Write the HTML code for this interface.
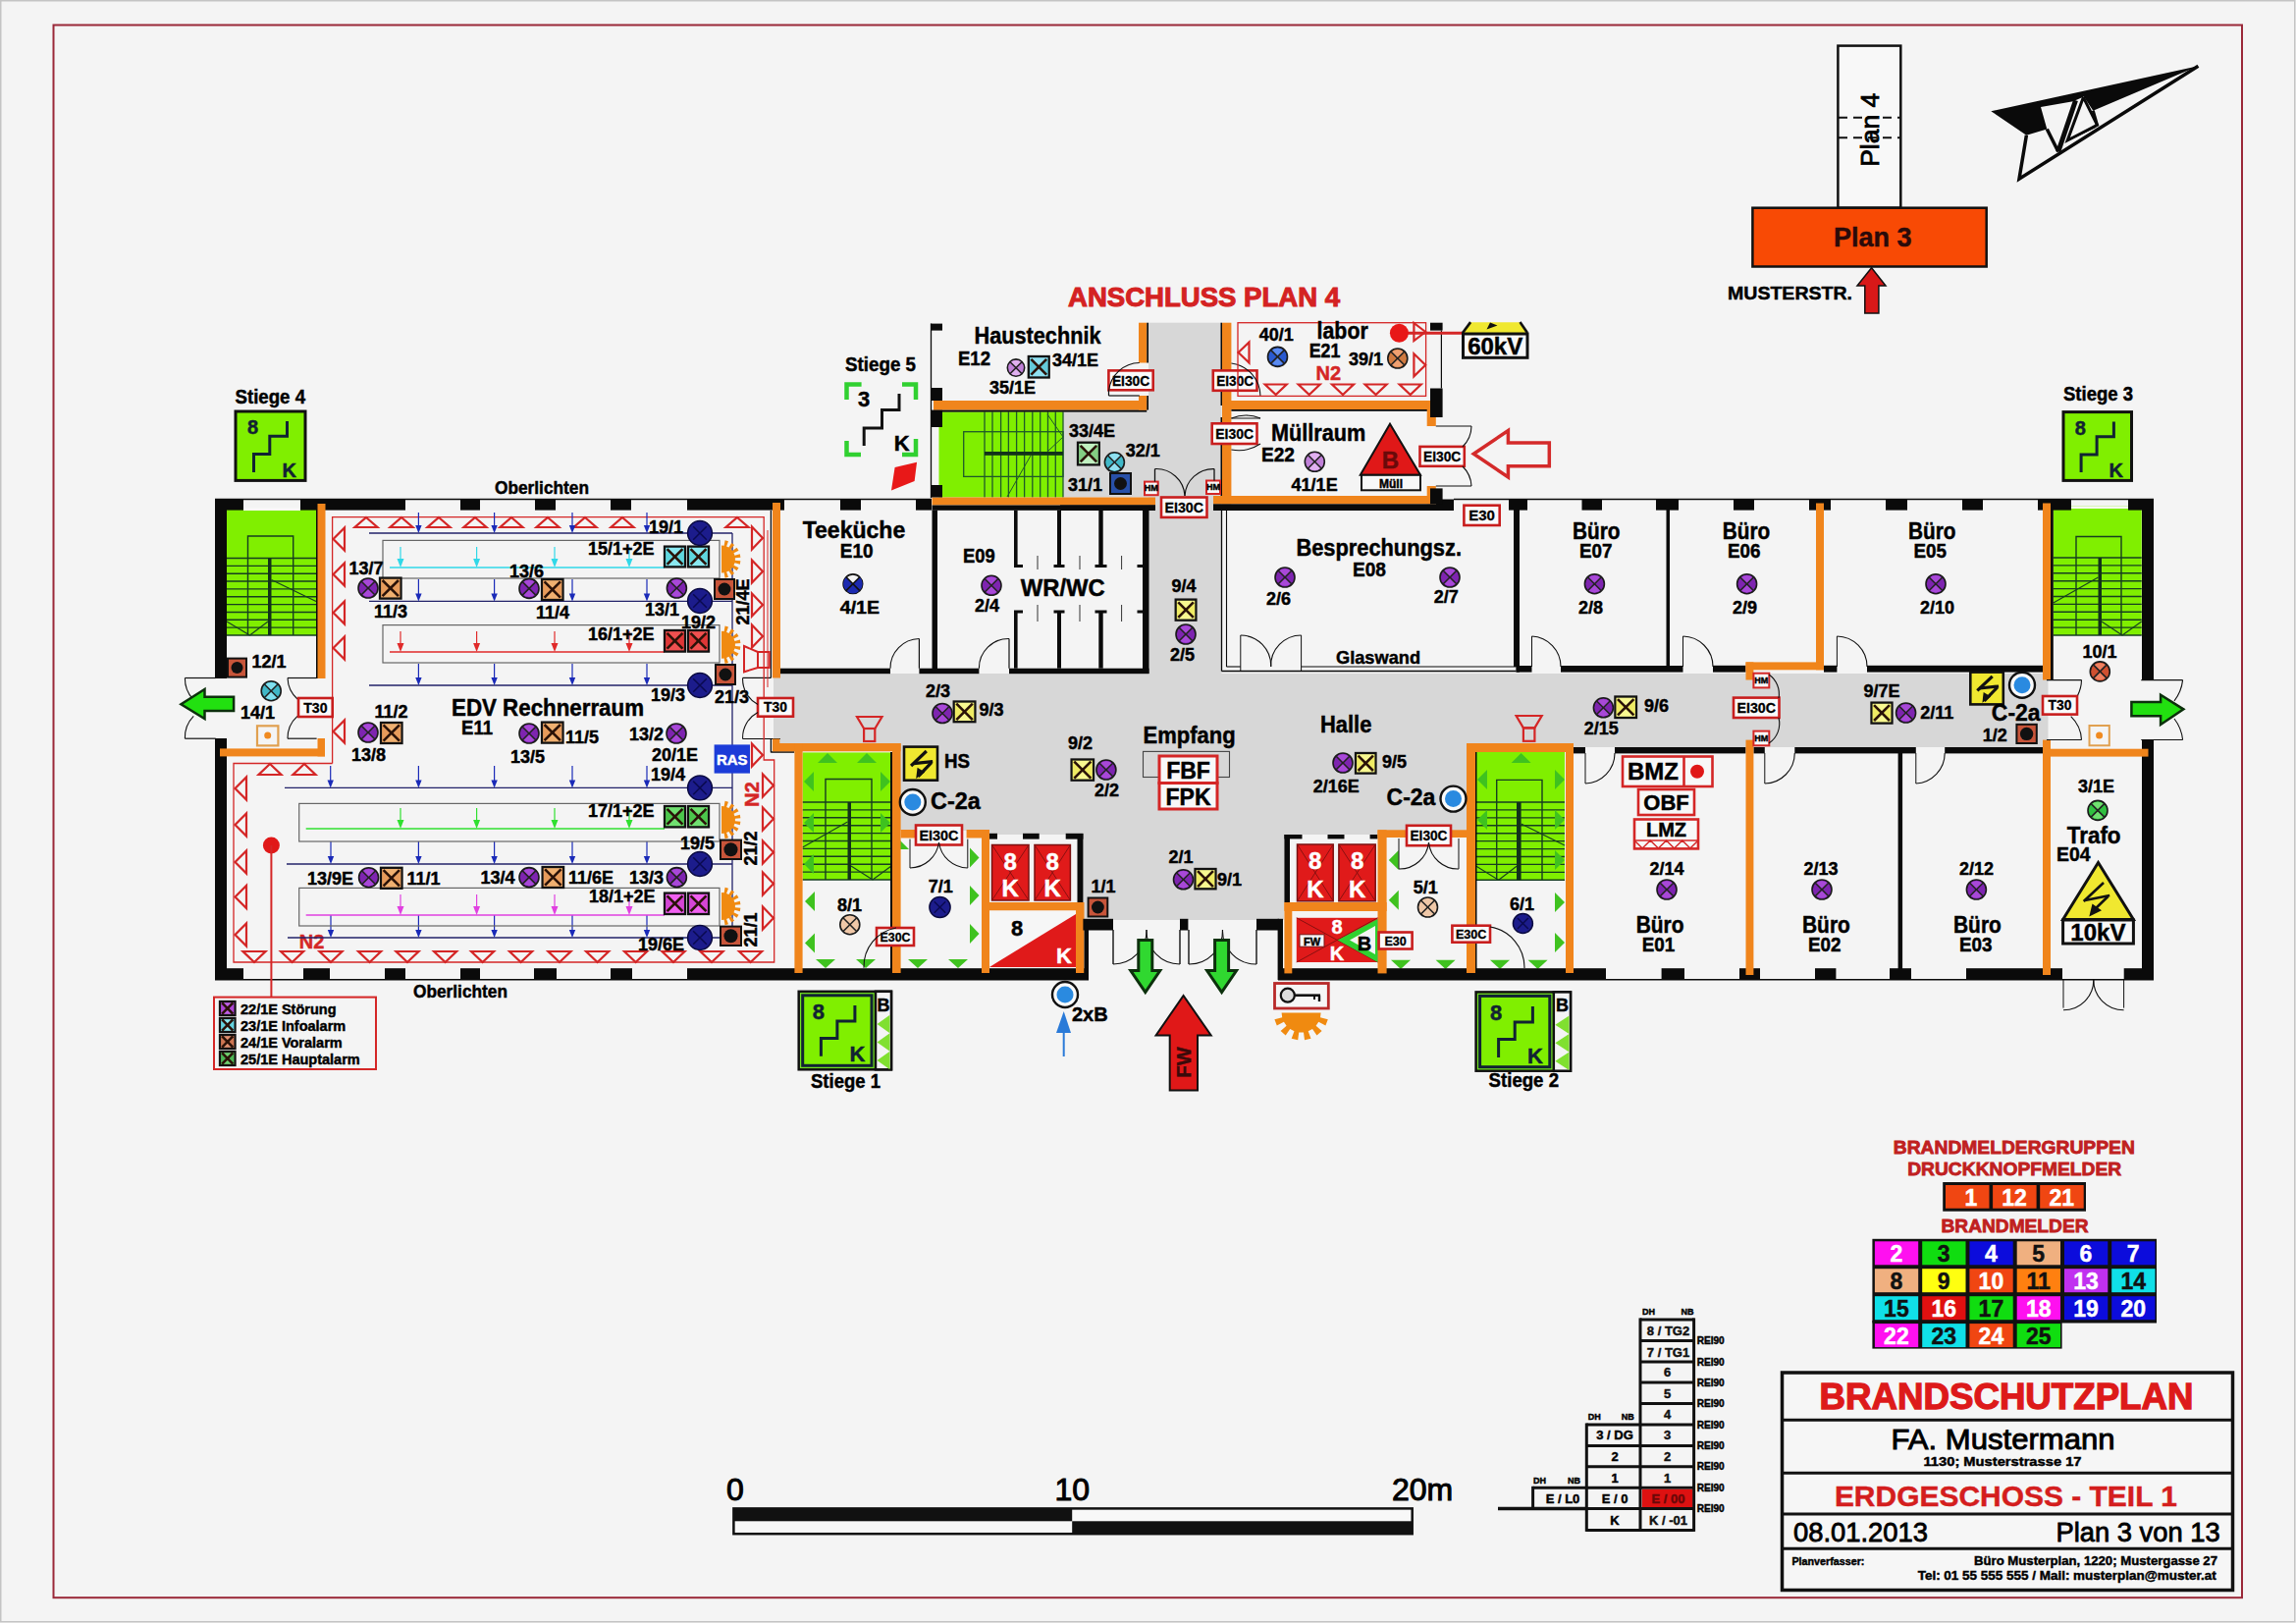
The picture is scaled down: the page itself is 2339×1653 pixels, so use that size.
<!DOCTYPE html>
<html><head><meta charset="utf-8"><title>Brandschutzplan</title>
<style>html,body{margin:0;padding:0;background:#f4f4f4;} svg{display:block;} text{font-family:"Liberation Sans",sans-serif;}</style>
</head><body>
<svg width="2339" height="1653" viewBox="0 0 2339 1653">
<rect x="0" y="0" width="2339" height="1653" fill="#f4f4f4"/>
<rect x="0.75" y="0.75" width="2337" height="1651" fill="none" stroke="#c4c4c4" stroke-width="1.5"/>
<rect x="54.5" y="25.5" width="2229.5" height="1601.7" fill="none" stroke="#9a2838" stroke-width="2"/>
<rect x="1170.0" y="328.7" width="74.5" height="371.3" fill="#d7d7d7"/>
<rect x="788.0" y="686.0" width="1298.5" height="75.0" fill="#d7d7d7"/>
<rect x="917.0" y="686.0" width="577.0" height="160.0" fill="#d7d7d7"/>
<rect x="1008.0" y="846.0" width="300.0" height="4.0" fill="#d7d7d7"/>
<rect x="1103.0" y="846.0" width="205.0" height="91.0" fill="#d7d7d7"/>
<rect x="1308.0" y="846.0" width="96.0" height="4.0" fill="#d7d7d7"/>
<rect x="1083.0" y="419.0" width="87.0" height="87.5" fill="#d7d7d7"/>
<rect x="231.0" y="517.0" width="91.0" height="130.0" fill="#80ef00"/>
<polyline points="252.5,647.0 252.5,546.0 298.7,546.0 298.7,647.0" fill="none" stroke="#163e20" stroke-width="1.4"/>
<line x1="231.0" y1="568.5" x2="322.0" y2="568.5" stroke="#163e20" stroke-width="1.4"/>
<line x1="231.0" y1="576.4" x2="322.0" y2="576.4" stroke="#163e20" stroke-width="1.4"/>
<line x1="231.0" y1="584.2" x2="322.0" y2="584.2" stroke="#163e20" stroke-width="1.4"/>
<line x1="231.0" y1="592.0" x2="322.0" y2="592.0" stroke="#163e20" stroke-width="1.4"/>
<line x1="231.0" y1="599.9" x2="322.0" y2="599.9" stroke="#163e20" stroke-width="1.4"/>
<line x1="231.0" y1="607.8" x2="322.0" y2="607.8" stroke="#163e20" stroke-width="1.4"/>
<line x1="231.0" y1="615.6" x2="322.0" y2="615.6" stroke="#163e20" stroke-width="1.4"/>
<line x1="231.0" y1="623.5" x2="322.0" y2="623.5" stroke="#163e20" stroke-width="1.4"/>
<line x1="231.0" y1="631.3" x2="322.0" y2="631.3" stroke="#163e20" stroke-width="1.4"/>
<line x1="231.0" y1="639.1" x2="322.0" y2="639.1" stroke="#163e20" stroke-width="1.4"/>
<line x1="231.0" y1="647.0" x2="322.0" y2="647.0" stroke="#163e20" stroke-width="1.4"/>
<rect x="273.0" y="568.5" width="3.5" height="78.5" fill="#12321a"/>
<line x1="276.5" y1="590.5" x2="322.0" y2="612.5" stroke="#163e20" stroke-width="1.1"/>
<line x1="231.0" y1="633.0" x2="254.5" y2="647.0" stroke="#163e20" stroke-width="1.1"/>
<line x1="254.5" y1="647.0" x2="273.0" y2="633.0" stroke="#163e20" stroke-width="1.1"/>
<rect x="248.0" y="517.0" width="58.0" height="3.0" fill="#f8f8f8"/>
<rect x="2091.8" y="515.5" width="89.9" height="131.5" fill="#80ef00"/>
<polyline points="2115.0,647.0 2115.0,546.5 2161.0,546.5 2161.0,647.0" fill="none" stroke="#163e20" stroke-width="1.4"/>
<line x1="2091.8" y1="568.0" x2="2181.7" y2="568.0" stroke="#163e20" stroke-width="1.4"/>
<line x1="2091.8" y1="575.9" x2="2181.7" y2="575.9" stroke="#163e20" stroke-width="1.4"/>
<line x1="2091.8" y1="583.8" x2="2181.7" y2="583.8" stroke="#163e20" stroke-width="1.4"/>
<line x1="2091.8" y1="591.7" x2="2181.7" y2="591.7" stroke="#163e20" stroke-width="1.4"/>
<line x1="2091.8" y1="599.6" x2="2181.7" y2="599.6" stroke="#163e20" stroke-width="1.4"/>
<line x1="2091.8" y1="607.5" x2="2181.7" y2="607.5" stroke="#163e20" stroke-width="1.4"/>
<line x1="2091.8" y1="615.4" x2="2181.7" y2="615.4" stroke="#163e20" stroke-width="1.4"/>
<line x1="2091.8" y1="623.3" x2="2181.7" y2="623.3" stroke="#163e20" stroke-width="1.4"/>
<line x1="2091.8" y1="631.2" x2="2181.7" y2="631.2" stroke="#163e20" stroke-width="1.4"/>
<line x1="2091.8" y1="639.1" x2="2181.7" y2="639.1" stroke="#163e20" stroke-width="1.4"/>
<line x1="2091.8" y1="647.0" x2="2181.7" y2="647.0" stroke="#163e20" stroke-width="1.4"/>
<rect x="2137.5" y="568.0" width="3.5" height="79.0" fill="#12321a"/>
<line x1="2137.5" y1="588.0" x2="2091.8" y2="614.0" stroke="#163e20" stroke-width="1.1"/>
<line x1="2181.7" y1="633.0" x2="2162.0" y2="647.0" stroke="#163e20" stroke-width="1.1"/>
<line x1="2162.0" y1="647.0" x2="2141.0" y2="633.0" stroke="#163e20" stroke-width="1.1"/>
<rect x="2110.0" y="515.5" width="58.0" height="2.5" fill="#f8f8f8"/>
<rect x="817.6" y="766.4" width="90.4" height="129.6" fill="#80ef00"/>
<polyline points="841.0,896.0 841.0,793.5 888.0,793.5 888.0,896.0" fill="none" stroke="#163e20" stroke-width="1.4"/>
<line x1="817.6" y1="817.0" x2="908.0" y2="817.0" stroke="#163e20" stroke-width="1.4"/>
<line x1="817.6" y1="824.9" x2="908.0" y2="824.9" stroke="#163e20" stroke-width="1.4"/>
<line x1="817.6" y1="832.8" x2="908.0" y2="832.8" stroke="#163e20" stroke-width="1.4"/>
<line x1="817.6" y1="840.7" x2="908.0" y2="840.7" stroke="#163e20" stroke-width="1.4"/>
<line x1="817.6" y1="848.6" x2="908.0" y2="848.6" stroke="#163e20" stroke-width="1.4"/>
<line x1="817.6" y1="856.5" x2="908.0" y2="856.5" stroke="#163e20" stroke-width="1.4"/>
<line x1="817.6" y1="864.4" x2="908.0" y2="864.4" stroke="#163e20" stroke-width="1.4"/>
<line x1="817.6" y1="872.3" x2="908.0" y2="872.3" stroke="#163e20" stroke-width="1.4"/>
<line x1="817.6" y1="880.2" x2="908.0" y2="880.2" stroke="#163e20" stroke-width="1.4"/>
<line x1="817.6" y1="888.1" x2="908.0" y2="888.1" stroke="#163e20" stroke-width="1.4"/>
<line x1="817.6" y1="896.0" x2="908.0" y2="896.0" stroke="#163e20" stroke-width="1.4"/>
<rect x="863.5" y="817.0" width="3.5" height="79.0" fill="#12321a"/>
<line x1="863.5" y1="837.0" x2="817.6" y2="863.0" stroke="#163e20" stroke-width="1.1"/>
<line x1="908.0" y1="882.0" x2="889.0" y2="896.0" stroke="#163e20" stroke-width="1.1"/>
<line x1="889.0" y1="896.0" x2="867.0" y2="882.0" stroke="#163e20" stroke-width="1.1"/>
<rect x="1504.0" y="766.0" width="90.0" height="130.3" fill="#80ef00"/>
<polyline points="1524.7,896.3 1524.7,794.4 1571.0,794.4 1571.0,896.3" fill="none" stroke="#163e20" stroke-width="1.4"/>
<line x1="1504.0" y1="817.0" x2="1594.0" y2="817.0" stroke="#163e20" stroke-width="1.4"/>
<line x1="1504.0" y1="824.9" x2="1594.0" y2="824.9" stroke="#163e20" stroke-width="1.4"/>
<line x1="1504.0" y1="832.9" x2="1594.0" y2="832.9" stroke="#163e20" stroke-width="1.4"/>
<line x1="1504.0" y1="840.8" x2="1594.0" y2="840.8" stroke="#163e20" stroke-width="1.4"/>
<line x1="1504.0" y1="848.7" x2="1594.0" y2="848.7" stroke="#163e20" stroke-width="1.4"/>
<line x1="1504.0" y1="856.6" x2="1594.0" y2="856.6" stroke="#163e20" stroke-width="1.4"/>
<line x1="1504.0" y1="864.6" x2="1594.0" y2="864.6" stroke="#163e20" stroke-width="1.4"/>
<line x1="1504.0" y1="872.5" x2="1594.0" y2="872.5" stroke="#163e20" stroke-width="1.4"/>
<line x1="1504.0" y1="880.4" x2="1594.0" y2="880.4" stroke="#163e20" stroke-width="1.4"/>
<line x1="1504.0" y1="888.4" x2="1594.0" y2="888.4" stroke="#163e20" stroke-width="1.4"/>
<line x1="1504.0" y1="896.3" x2="1594.0" y2="896.3" stroke="#163e20" stroke-width="1.4"/>
<rect x="1545.0" y="817.0" width="4.6" height="79.3" fill="#12321a"/>
<line x1="1549.6" y1="839.0" x2="1594.0" y2="861.0" stroke="#163e20" stroke-width="1.1"/>
<line x1="1504.0" y1="882.3" x2="1526.7" y2="896.3" stroke="#163e20" stroke-width="1.1"/>
<line x1="1526.7" y1="896.3" x2="1545.0" y2="882.3" stroke="#163e20" stroke-width="1.1"/>
<rect x="956.5" y="419.4" width="126.5" height="87.1" fill="#80ef00"/>
<line x1="1003.0" y1="419.4" x2="1003.0" y2="506.5" stroke="#1f5a2a" stroke-width="1.3"/>
<line x1="1011.0" y1="419.4" x2="1011.0" y2="506.5" stroke="#1f5a2a" stroke-width="1.3"/>
<line x1="1019.6" y1="419.4" x2="1019.6" y2="506.5" stroke="#1f5a2a" stroke-width="1.3"/>
<line x1="1027.4" y1="419.4" x2="1027.4" y2="506.5" stroke="#1f5a2a" stroke-width="1.3"/>
<line x1="1035.6" y1="419.4" x2="1035.6" y2="506.5" stroke="#1f5a2a" stroke-width="1.3"/>
<line x1="1043.6" y1="419.4" x2="1043.6" y2="506.5" stroke="#1f5a2a" stroke-width="1.3"/>
<line x1="1051.8" y1="419.4" x2="1051.8" y2="506.5" stroke="#1f5a2a" stroke-width="1.3"/>
<line x1="1059.7" y1="419.4" x2="1059.7" y2="506.5" stroke="#1f5a2a" stroke-width="1.3"/>
<line x1="1067.5" y1="419.4" x2="1067.5" y2="506.5" stroke="#1f5a2a" stroke-width="1.3"/>
<line x1="1075.3" y1="419.4" x2="1075.3" y2="506.5" stroke="#1f5a2a" stroke-width="1.3"/>
<line x1="1083.0" y1="419.4" x2="1083.0" y2="506.5" stroke="#1f5a2a" stroke-width="1.3"/>
<rect x="981.7" y="439.7" width="101.3" height="45.7" fill="none" stroke="#1f5a2a" stroke-width="1.3"/>
<rect x="1003.0" y="460.0" width="80.0" height="3.8" fill="#12321a"/>
<line x1="1067.0" y1="422.0" x2="1083.0" y2="445.0" stroke="#1f5a2a" stroke-width="1"/>
<line x1="1083.0" y1="445.0" x2="1067.0" y2="460.0" stroke="#1f5a2a" stroke-width="1"/>
<line x1="1026.0" y1="506.0" x2="1050.0" y2="464.0" stroke="#1f5a2a" stroke-width="1"/>
<polygon points="833.0,777.0 853.0,777.0 843.0,767.0" fill="#3fc21f"/>
<polygon points="873.0,777.0 893.0,777.0 883.0,767.0" fill="#3fc21f"/>
<polygon points="819.0,796.0 829.0,786.0 829.0,806.0" fill="#3fc21f"/>
<polygon points="819.0,838.0 829.0,828.0 829.0,848.0" fill="#3fc21f"/>
<polygon points="819.0,880.0 829.0,870.0 829.0,890.0" fill="#3fc21f"/>
<polygon points="907.0,796.0 897.0,786.0 897.0,806.0" fill="#3fc21f"/>
<polygon points="907.0,838.0 897.0,828.0 897.0,848.0" fill="#3fc21f"/>
<polygon points="820.0,918.0 830.0,908.0 830.0,928.0" fill="#3fc21f"/>
<polygon points="820.0,960.5 830.0,950.5 830.0,970.5" fill="#3fc21f"/>
<polygon points="831.0,977.0 851.0,977.0 841.0,986.0" fill="#3fc21f"/>
<polygon points="872.0,977.0 892.0,977.0 882.0,986.0" fill="#3fc21f"/>
<polygon points="925.0,977.0 945.0,977.0 935.0,986.0" fill="#3fc21f"/>
<polygon points="966.0,977.0 986.0,977.0 976.0,986.0" fill="#3fc21f"/>
<polygon points="997.5,873.5 988.0,863.5 988.0,883.5" fill="#3fc21f"/>
<polygon points="997.5,912.0 988.0,902.0 988.0,922.0" fill="#3fc21f"/>
<polygon points="997.5,951.0 988.0,941.0 988.0,961.0" fill="#3fc21f"/>
<polygon points="908.0,865.0 926.0,865.0 917.0,856.0" fill="#3fc21f"/>
<polygon points="1539.6,777.0 1559.6,777.0 1549.6,767.0" fill="#3fc21f"/>
<polygon points="1505.0,794.0 1515.0,784.0 1515.0,804.0" fill="#3fc21f"/>
<polygon points="1505.0,835.0 1515.0,825.0 1515.0,845.0" fill="#3fc21f"/>
<polygon points="1594.0,794.0 1584.0,784.0 1584.0,804.0" fill="#3fc21f"/>
<polygon points="1594.0,835.0 1584.0,825.0 1584.0,845.0" fill="#3fc21f"/>
<polygon points="1594.0,876.0 1584.0,866.0 1584.0,886.0" fill="#3fc21f"/>
<polygon points="1594.0,919.0 1584.0,909.0 1584.0,929.0" fill="#3fc21f"/>
<polygon points="1594.0,960.0 1584.0,950.0 1584.0,970.0" fill="#3fc21f"/>
<polygon points="1414.8,876.0 1424.8,866.0 1424.8,886.0" fill="#3fc21f"/>
<polygon points="1414.8,916.7 1424.8,906.7 1424.8,926.7" fill="#3fc21f"/>
<polygon points="1417.0,977.8 1437.0,977.8 1427.0,987.0" fill="#3fc21f"/>
<polygon points="1462.6,977.8 1482.6,977.8 1472.6,987.0" fill="#3fc21f"/>
<polygon points="1518.0,977.8 1538.0,977.8 1528.0,987.0" fill="#3fc21f"/>
<polygon points="1556.6,977.8 1576.6,977.8 1566.6,987.0" fill="#3fc21f"/>
<line x1="219.0" y1="508.5" x2="949.0" y2="508.5" stroke="#0a0a0a" stroke-width="1.5"/>
<line x1="1481.0" y1="508.5" x2="2194.0" y2="508.5" stroke="#0a0a0a" stroke-width="1.5"/>
<rect x="219.0" y="508.5" width="29.0" height="11.1" fill="#0a0a0a"/>
<rect x="306.0" y="508.5" width="107.0" height="11.1" fill="#0a0a0a"/>
<rect x="469.0" y="508.5" width="20.0" height="11.1" fill="#0a0a0a"/>
<rect x="545.0" y="508.5" width="21.0" height="11.1" fill="#0a0a0a"/>
<rect x="622.0" y="508.5" width="21.0" height="11.1" fill="#0a0a0a"/>
<rect x="700.0" y="508.5" width="99.0" height="11.1" fill="#0a0a0a"/>
<rect x="856.0" y="508.5" width="21.0" height="11.1" fill="#0a0a0a"/>
<rect x="933.0" y="508.5" width="16.0" height="11.1" fill="#0a0a0a"/>
<rect x="1463.0" y="508.5" width="18.0" height="11.1" fill="#0a0a0a"/>
<rect x="1537.0" y="508.5" width="19.0" height="11.1" fill="#0a0a0a"/>
<rect x="1611.5" y="508.5" width="20.5" height="11.1" fill="#0a0a0a"/>
<rect x="1687.0" y="508.5" width="23.0" height="11.1" fill="#0a0a0a"/>
<rect x="1766.0" y="508.5" width="21.0" height="11.1" fill="#0a0a0a"/>
<rect x="1843.0" y="508.5" width="22.0" height="11.1" fill="#0a0a0a"/>
<rect x="1921.0" y="508.5" width="22.0" height="11.1" fill="#0a0a0a"/>
<rect x="1999.0" y="508.5" width="21.0" height="11.1" fill="#0a0a0a"/>
<rect x="2076.0" y="508.5" width="34.0" height="11.1" fill="#0a0a0a"/>
<rect x="2168.0" y="508.5" width="26.0" height="11.1" fill="#0a0a0a"/>
<line x1="219.0" y1="997.8" x2="1109.0" y2="997.8" stroke="#0a0a0a" stroke-width="1.5"/>
<line x1="1302.0" y1="997.8" x2="2194.0" y2="997.8" stroke="#0a0a0a" stroke-width="1.5"/>
<rect x="219.0" y="986.2" width="29.0" height="11.8" fill="#0a0a0a"/>
<rect x="309.0" y="986.2" width="27.0" height="11.8" fill="#0a0a0a"/>
<rect x="392.0" y="986.2" width="21.0" height="11.8" fill="#0a0a0a"/>
<rect x="469.0" y="986.2" width="20.0" height="11.8" fill="#0a0a0a"/>
<rect x="544.0" y="986.2" width="23.0" height="11.8" fill="#0a0a0a"/>
<rect x="622.0" y="986.2" width="22.0" height="11.8" fill="#0a0a0a"/>
<rect x="700.0" y="986.2" width="409.0" height="11.8" fill="#0a0a0a"/>
<rect x="1302.0" y="986.2" width="334.0" height="11.8" fill="#0a0a0a"/>
<rect x="1692.6" y="986.2" width="23.4" height="11.8" fill="#0a0a0a"/>
<rect x="1772.0" y="986.2" width="21.0" height="11.8" fill="#0a0a0a"/>
<rect x="1849.0" y="986.2" width="21.4" height="11.8" fill="#0a0a0a"/>
<rect x="1925.0" y="986.2" width="22.0" height="11.8" fill="#0a0a0a"/>
<rect x="2003.0" y="986.2" width="98.0" height="11.8" fill="#0a0a0a"/>
<rect x="2163.7" y="986.2" width="30.3" height="11.8" fill="#0a0a0a"/>
<rect x="219.0" y="508.5" width="12.0" height="182.5" fill="#0a0a0a"/>
<rect x="219.0" y="752.0" width="12.0" height="246.0" fill="#0a0a0a"/>
<rect x="2182.0" y="508.5" width="12.0" height="184.0" fill="#0a0a0a"/>
<rect x="2182.0" y="753.6" width="12.0" height="244.4" fill="#0a0a0a"/>
<rect x="322.0" y="513.0" width="2.0" height="178.0" fill="#0a0a0a"/>
<rect x="323.5" y="513.0" width="8.0" height="178.0" fill="#f0851c"/>
<rect x="224.0" y="762.4" width="107.0" height="8.0" fill="#f0851c"/>
<rect x="323.5" y="752.0" width="7.5" height="18.4" fill="#f0851c"/>
<rect x="2081.0" y="512.5" width="8.0" height="180.0" fill="#f0851c"/>
<rect x="2089.0" y="515.5" width="2.8" height="177.0" fill="#0a0a0a"/>
<rect x="2081.0" y="753.6" width="8.0" height="239.4" fill="#f0851c"/>
<rect x="2089.0" y="762.7" width="99.5" height="7.9" fill="#f0851c"/>
<rect x="787.0" y="512.0" width="8.0" height="178.5" fill="#f0851c"/>
<line x1="785.4" y1="520.0" x2="785.4" y2="690.4" stroke="#0a0a0a" stroke-width="1.3"/>
<line x1="756.6" y1="690.4" x2="785.4" y2="690.4" stroke="#0a0a0a" stroke-width="1.2"/>
<line x1="756.6" y1="752.5" x2="794.8" y2="752.5" stroke="#0a0a0a" stroke-width="1.2"/>
<rect x="787.0" y="752.5" width="7.3" height="12.8" fill="#f0851c"/>
<line x1="785.4" y1="752.5" x2="785.4" y2="766.4" stroke="#0a0a0a" stroke-width="1.3"/>
<line x1="785.4" y1="766.0" x2="809.2" y2="766.0" stroke="#0a0a0a" stroke-width="1.5"/>
<rect x="795.0" y="680.7" width="112.0" height="5.5" fill="#0a0a0a"/>
<rect x="936.4" y="680.7" width="61.0" height="5.5" fill="#0a0a0a"/>
<rect x="1028.0" y="680.7" width="142.5" height="5.5" fill="#0a0a0a"/>
<rect x="949.5" y="519.6" width="5.5" height="166.4" fill="#0a0a0a"/>
<rect x="1164.0" y="519.6" width="6.5" height="166.4" fill="#0a0a0a"/>
<rect x="949.5" y="506.5" width="227.5" height="8.0" fill="#f0851c"/>
<rect x="949.5" y="514.5" width="227.5" height="5.3" fill="#0a0a0a"/>
<rect x="1033.0" y="519.6" width="3.6" height="57.7" fill="#0a0a0a"/>
<rect x="1033.0" y="622.0" width="3.6" height="58.7" fill="#0a0a0a"/>
<rect x="1077.0" y="519.6" width="4.0" height="57.7" fill="#0a0a0a"/>
<rect x="1077.0" y="622.0" width="4.0" height="58.7" fill="#0a0a0a"/>
<rect x="1119.3" y="519.6" width="4.4" height="57.7" fill="#0a0a0a"/>
<rect x="1119.3" y="622.0" width="4.4" height="58.7" fill="#0a0a0a"/>
<rect x="1033.0" y="575.0" width="9.0" height="3.0" fill="#0a0a0a"/>
<rect x="1033.0" y="621.5" width="9.0" height="3.0" fill="#0a0a0a"/>
<rect x="1073.5" y="575.0" width="11.0" height="3.0" fill="#0a0a0a"/>
<rect x="1073.5" y="621.5" width="11.0" height="3.0" fill="#0a0a0a"/>
<rect x="1115.5" y="575.0" width="12.0" height="3.0" fill="#0a0a0a"/>
<rect x="1115.5" y="621.5" width="12.0" height="3.0" fill="#0a0a0a"/>
<rect x="1158.5" y="575.0" width="5.5" height="3.0" fill="#0a0a0a"/>
<rect x="1158.5" y="621.5" width="5.5" height="3.0" fill="#0a0a0a"/>
<line x1="1057.0" y1="566.0" x2="1057.0" y2="580.0" stroke="#333" stroke-width="1"/>
<line x1="1057.0" y1="616.0" x2="1057.0" y2="633.0" stroke="#333" stroke-width="1"/>
<line x1="1100.0" y1="566.0" x2="1100.0" y2="580.0" stroke="#333" stroke-width="1"/>
<line x1="1100.0" y1="616.0" x2="1100.0" y2="633.0" stroke="#333" stroke-width="1"/>
<line x1="1142.6" y1="566.0" x2="1142.6" y2="580.0" stroke="#333" stroke-width="1"/>
<line x1="1142.6" y1="616.0" x2="1142.6" y2="633.0" stroke="#333" stroke-width="1"/>
<line x1="948.5" y1="329.6" x2="948.5" y2="507.0" stroke="#0a0a0a" stroke-width="1.3"/>
<rect x="948.0" y="329.6" width="12.0" height="7.0" fill="#0a0a0a"/>
<rect x="948.0" y="395.0" width="12.0" height="13.0" fill="#0a0a0a"/>
<rect x="948.0" y="417.6" width="12.0" height="17.4" fill="#0a0a0a"/>
<rect x="948.0" y="494.0" width="12.0" height="12.5" fill="#0a0a0a"/>
<rect x="951.0" y="408.0" width="217.3" height="9.6" fill="#f0851c"/>
<rect x="951.0" y="417.6" width="217.3" height="2.0" fill="#0a0a0a"/>
<rect x="1160.0" y="328.7" width="8.3" height="40.8" fill="#f0851c"/>
<rect x="1160.0" y="403.0" width="8.3" height="14.6" fill="#f0851c"/>
<rect x="1168.3" y="328.7" width="1.7" height="40.8" fill="#0a0a0a"/>
<rect x="1168.3" y="403.0" width="1.7" height="14.6" fill="#0a0a0a"/>
<rect x="1245.0" y="328.7" width="9.4" height="184.6" fill="#f0851c"/>
<rect x="1243.5" y="328.7" width="1.5" height="84.3" fill="#0a0a0a"/>
<rect x="1243.5" y="425.0" width="1.5" height="88.0" fill="#0a0a0a"/>
<rect x="1245.0" y="408.0" width="217.8" height="9.0" fill="#f0851c"/>
<rect x="1254.4" y="417.0" width="199.6" height="1.8" fill="#0a0a0a"/>
<rect x="1453.7" y="408.0" width="9.1" height="26.0" fill="#f0851c"/>
<rect x="1453.7" y="495.0" width="9.1" height="18.3" fill="#f0851c"/>
<rect x="1236.0" y="505.0" width="226.8" height="8.3" fill="#f0851c"/>
<rect x="1236.0" y="513.3" width="245.0" height="6.7" fill="#0a0a0a"/>
<rect x="1457.0" y="328.7" width="12.6" height="7.9" fill="#0a0a0a"/>
<line x1="1468.4" y1="336.6" x2="1468.4" y2="395.5" stroke="#0a0a0a" stroke-width="1.2"/>
<rect x="1457.0" y="395.5" width="12.6" height="29.5" fill="#0a0a0a"/>
<rect x="1457.0" y="497.4" width="12.6" height="15.9" fill="#0a0a0a"/>
<rect x="1080.0" y="514.4" width="97.0" height="5.6" fill="#0a0a0a"/>
<line x1="1244.5" y1="520.0" x2="1244.5" y2="683.5" stroke="#0a0a0a" stroke-width="1.3"/>
<line x1="1249.5" y1="520.0" x2="1249.5" y2="679.0" stroke="#0a0a0a" stroke-width="1.1"/>
<line x1="1244.5" y1="683.5" x2="1544.6" y2="683.5" stroke="#0a0a0a" stroke-width="1.3"/>
<line x1="1249.5" y1="679.0" x2="1263.8" y2="679.0" stroke="#0a0a0a" stroke-width="1.1"/>
<line x1="1325.6" y1="679.0" x2="1544.6" y2="679.0" stroke="#0a0a0a" stroke-width="1.1"/>
<rect x="1544.6" y="519.0" width="3.4" height="165.6" fill="#0a0a0a"/>
<rect x="1544.6" y="678.0" width="15.9" height="6.6" fill="#0a0a0a"/>
<rect x="1590.0" y="678.0" width="124.5" height="6.6" fill="#0a0a0a"/>
<rect x="1697.5" y="519.0" width="3.5" height="160.0" fill="#0a0a0a"/>
<rect x="1745.0" y="677.8" width="33.5" height="6.8" fill="#0a0a0a"/>
<rect x="1850.0" y="512.5" width="8.0" height="169.8" fill="#f0851c"/>
<rect x="1778.5" y="674.4" width="79.5" height="7.9" fill="#f0851c"/>
<rect x="1778.5" y="674.4" width="7.9" height="18.1" fill="#f0851c"/>
<rect x="1858.0" y="677.8" width="13.4" height="6.8" fill="#0a0a0a"/>
<rect x="1902.0" y="677.8" width="179.0" height="6.8" fill="#0a0a0a"/>
<rect x="1542.0" y="519.0" width="4.6" height="160.0" fill="#0a0a0a"/>
<rect x="1602.7" y="761.0" width="12.3" height="6.4" fill="#0a0a0a"/>
<rect x="1645.0" y="761.0" width="133.5" height="6.4" fill="#0a0a0a"/>
<rect x="1786.4" y="761.0" width="11.4" height="6.4" fill="#0a0a0a"/>
<rect x="1828.3" y="761.0" width="123.5" height="6.4" fill="#0a0a0a"/>
<rect x="1981.2" y="761.0" width="99.8" height="6.4" fill="#0a0a0a"/>
<rect x="1778.5" y="753.6" width="7.9" height="239.4" fill="#f0851c"/>
<rect x="1933.6" y="767.0" width="4.5" height="220.0" fill="#0a0a0a"/>
<rect x="787.0" y="757.0" width="130.6" height="8.3" fill="#f0851c"/>
<rect x="809.4" y="757.0" width="8.2" height="234.0" fill="#f0851c"/>
<rect x="909.0" y="757.0" width="8.6" height="234.0" fill="#f0851c"/>
<rect x="907.0" y="766.0" width="2.0" height="224.0" fill="#0a0a0a"/>
<rect x="917.6" y="845.0" width="15.4" height="8.5" fill="#f0851c"/>
<rect x="984.6" y="845.0" width="23.4" height="8.5" fill="#f0851c"/>
<rect x="1000.0" y="845.0" width="8.0" height="146.0" fill="#f0851c"/>
<rect x="1008.0" y="848.8" width="8.0" height="5.8" fill="#0a0a0a"/>
<rect x="1042.0" y="848.8" width="16.7" height="5.8" fill="#0a0a0a"/>
<rect x="1085.7" y="848.8" width="17.7" height="5.8" fill="#0a0a0a"/>
<rect x="1097.5" y="849.0" width="5.9" height="70.0" fill="#0a0a0a"/>
<rect x="1008.0" y="919.0" width="95.4" height="8.5" fill="#f0851c"/>
<rect x="1096.0" y="919.0" width="8.5" height="72.0" fill="#f0851c"/>
<rect x="1103.4" y="935.8" width="30.6" height="11.7" fill="#0a0a0a"/>
<rect x="1202.0" y="935.8" width="8.4" height="11.7" fill="#0a0a0a"/>
<rect x="1280.0" y="935.8" width="23.0" height="11.7" fill="#0a0a0a"/>
<rect x="1104.5" y="947.0" width="4.5" height="51.0" fill="#0a0a0a"/>
<rect x="1301.6" y="935.8" width="5.4" height="62.2" fill="#0a0a0a"/>
<rect x="1308.4" y="850.0" width="5.6" height="69.0" fill="#0a0a0a"/>
<rect x="1308.4" y="850.0" width="18.1" height="4.4" fill="#0a0a0a"/>
<rect x="1352.5" y="850.0" width="17.0" height="4.4" fill="#0a0a0a"/>
<rect x="1395.6" y="850.0" width="7.9" height="4.4" fill="#0a0a0a"/>
<rect x="1308.4" y="919.0" width="104.2" height="9.0" fill="#f0851c"/>
<rect x="1308.4" y="919.0" width="7.9" height="72.4" fill="#f0851c"/>
<rect x="1403.5" y="845.3" width="9.1" height="146.1" fill="#f0851c"/>
<rect x="1403.5" y="845.3" width="29.5" height="7.7" fill="#f0851c"/>
<rect x="1478.0" y="845.3" width="25.0" height="7.7" fill="#f0851c"/>
<rect x="1494.0" y="757.0" width="9.0" height="234.0" fill="#f0851c"/>
<rect x="1494.0" y="757.0" width="109.0" height="9.0" fill="#f0851c"/>
<rect x="1595.0" y="757.0" width="8.0" height="234.0" fill="#f0851c"/>
<rect x="1503.0" y="766.0" width="1.5" height="224.0" fill="#0a0a0a"/>
<polyline points="338.6,777.5 338.6,526.6 778.2,526.6 778.2,774.0 788.7,774.0 788.7,980.0 238.0,980.0 238.0,777.5 338.6,777.5" fill="none" stroke="#d42626" stroke-width="1.3"/>
<line x1="782.0" y1="540.0" x2="782.0" y2="700.0" stroke="#d42626" stroke-width="1"/>
<polygon points="373.0,527.0 384.5,537.0 361.5,537.0" fill="none" stroke="#d42626" stroke-width="2.2" stroke-linejoin="miter"/>
<polygon points="409.0,527.0 420.5,537.0 397.5,537.0" fill="none" stroke="#d42626" stroke-width="2.2" stroke-linejoin="miter"/>
<polygon points="447.0,527.0 458.5,537.0 435.5,537.0" fill="none" stroke="#d42626" stroke-width="2.2" stroke-linejoin="miter"/>
<polygon points="484.0,527.0 495.5,537.0 472.5,537.0" fill="none" stroke="#d42626" stroke-width="2.2" stroke-linejoin="miter"/>
<polygon points="521.0,527.0 532.5,537.0 509.5,537.0" fill="none" stroke="#d42626" stroke-width="2.2" stroke-linejoin="miter"/>
<polygon points="558.0,527.0 569.5,537.0 546.5,537.0" fill="none" stroke="#d42626" stroke-width="2.2" stroke-linejoin="miter"/>
<polygon points="596.0,527.0 607.5,537.0 584.5,537.0" fill="none" stroke="#d42626" stroke-width="2.2" stroke-linejoin="miter"/>
<polygon points="634.0,527.0 645.5,537.0 622.5,537.0" fill="none" stroke="#d42626" stroke-width="2.2" stroke-linejoin="miter"/>
<polygon points="751.0,527.0 762.5,537.0 739.5,537.0" fill="none" stroke="#d42626" stroke-width="2.2" stroke-linejoin="miter"/>
<polygon points="339.5,549.0 351.0,537.5 351.0,560.5" fill="none" stroke="#d42626" stroke-width="2.2" stroke-linejoin="miter"/>
<polygon points="339.5,585.0 351.0,573.5 351.0,596.5" fill="none" stroke="#d42626" stroke-width="2.2" stroke-linejoin="miter"/>
<polygon points="339.5,624.0 351.0,612.5 351.0,635.5" fill="none" stroke="#d42626" stroke-width="2.2" stroke-linejoin="miter"/>
<polygon points="339.5,660.0 351.0,648.5 351.0,671.5" fill="none" stroke="#d42626" stroke-width="2.2" stroke-linejoin="miter"/>
<polygon points="339.5,745.0 351.0,733.5 351.0,756.5" fill="none" stroke="#d42626" stroke-width="2.2" stroke-linejoin="miter"/>
<polygon points="777.0,548.0 766.0,536.5 766.0,559.5" fill="none" stroke="#d42626" stroke-width="2.2" stroke-linejoin="miter"/>
<polygon points="777.0,582.0 766.0,570.5 766.0,593.5" fill="none" stroke="#d42626" stroke-width="2.2" stroke-linejoin="miter"/>
<polygon points="777.0,616.0 766.0,604.5 766.0,627.5" fill="none" stroke="#d42626" stroke-width="2.2" stroke-linejoin="miter"/>
<polygon points="777.0,648.0 766.0,636.5 766.0,659.5" fill="none" stroke="#d42626" stroke-width="2.2" stroke-linejoin="miter"/>
<polygon points="788.0,800.0 777.0,788.5 777.0,811.5" fill="none" stroke="#d42626" stroke-width="2.2" stroke-linejoin="miter"/>
<polygon points="788.0,834.0 777.0,822.5 777.0,845.5" fill="none" stroke="#d42626" stroke-width="2.2" stroke-linejoin="miter"/>
<polygon points="788.0,868.0 777.0,856.5 777.0,879.5" fill="none" stroke="#d42626" stroke-width="2.2" stroke-linejoin="miter"/>
<polygon points="788.0,900.0 777.0,888.5 777.0,911.5" fill="none" stroke="#d42626" stroke-width="2.2" stroke-linejoin="miter"/>
<polygon points="788.0,935.0 777.0,923.5 777.0,946.5" fill="none" stroke="#d42626" stroke-width="2.2" stroke-linejoin="miter"/>
<polygon points="275.0,778.0 286.5,789.0 263.5,789.0" fill="none" stroke="#d42626" stroke-width="2.2" stroke-linejoin="miter"/>
<polygon points="310.0,778.0 321.5,789.0 298.5,789.0" fill="none" stroke="#d42626" stroke-width="2.2" stroke-linejoin="miter"/>
<polygon points="239.5,803.0 251.0,791.5 251.0,814.5" fill="none" stroke="#d42626" stroke-width="2.2" stroke-linejoin="miter"/>
<polygon points="239.5,840.0 251.0,828.5 251.0,851.5" fill="none" stroke="#d42626" stroke-width="2.2" stroke-linejoin="miter"/>
<polygon points="239.5,878.0 251.0,866.5 251.0,889.5" fill="none" stroke="#d42626" stroke-width="2.2" stroke-linejoin="miter"/>
<polygon points="239.5,913.5 251.0,902.0 251.0,925.0" fill="none" stroke="#d42626" stroke-width="2.2" stroke-linejoin="miter"/>
<polygon points="239.5,952.0 251.0,940.5 251.0,963.5" fill="none" stroke="#d42626" stroke-width="2.2" stroke-linejoin="miter"/>
<polygon points="247.5,969.0 270.5,969.0 259.0,980.0" fill="none" stroke="#d42626" stroke-width="2.2" stroke-linejoin="miter"/>
<polygon points="286.1,969.0 309.1,969.0 297.6,980.0" fill="none" stroke="#d42626" stroke-width="2.2" stroke-linejoin="miter"/>
<polygon points="325.5,969.0 348.5,969.0 337.0,980.0" fill="none" stroke="#d42626" stroke-width="2.2" stroke-linejoin="miter"/>
<polygon points="365.1,969.0 388.1,969.0 376.6,980.0" fill="none" stroke="#d42626" stroke-width="2.2" stroke-linejoin="miter"/>
<polygon points="403.5,969.0 426.5,969.0 415.0,980.0" fill="none" stroke="#d42626" stroke-width="2.2" stroke-linejoin="miter"/>
<polygon points="442.1,969.0 465.1,969.0 453.6,980.0" fill="none" stroke="#d42626" stroke-width="2.2" stroke-linejoin="miter"/>
<polygon points="480.1,969.0 503.1,969.0 491.6,980.0" fill="none" stroke="#d42626" stroke-width="2.2" stroke-linejoin="miter"/>
<polygon points="519.1,969.0 542.1,969.0 530.6,980.0" fill="none" stroke="#d42626" stroke-width="2.2" stroke-linejoin="miter"/>
<polygon points="558.5,969.0 581.5,969.0 570.0,980.0" fill="none" stroke="#d42626" stroke-width="2.2" stroke-linejoin="miter"/>
<polygon points="597.1,969.0 620.1,969.0 608.6,980.0" fill="none" stroke="#d42626" stroke-width="2.2" stroke-linejoin="miter"/>
<polygon points="636.1,969.0 659.1,969.0 647.6,980.0" fill="none" stroke="#d42626" stroke-width="2.2" stroke-linejoin="miter"/>
<polygon points="674.5,969.0 697.5,969.0 686.0,980.0" fill="none" stroke="#d42626" stroke-width="2.2" stroke-linejoin="miter"/>
<polygon points="713.5,969.0 736.5,969.0 725.0,980.0" fill="none" stroke="#d42626" stroke-width="2.2" stroke-linejoin="miter"/>
<polygon points="753.1,969.0 776.1,969.0 764.6,980.0" fill="none" stroke="#d42626" stroke-width="2.2" stroke-linejoin="miter"/>
<text x="304.7" y="966.0" font-size="20" font-weight="bold" fill="#d42626" stroke="#d42626" stroke-width="0.45" text-anchor="start">N2</text>
<text x="0" y="0" font-size="20" font-weight="bold" fill="#d42626" stroke="#d42626" stroke-width="0.45" text-anchor="middle" dominant-baseline="central" transform="translate(766.0,809.0) rotate(-90)">N2</text>
<line x1="376.0" y1="543.0" x2="746.0" y2="543.0" stroke="#23236a" stroke-width="1.3"/>
<line x1="426.4" y1="522.0" x2="426.4" y2="536.0" stroke="#1a2ab8" stroke-width="1.2"/>
<polygon points="423.2,535.0 429.6,535.0 426.4,543.0" fill="#1a2ab8"/>
<line x1="503.6" y1="522.0" x2="503.6" y2="536.0" stroke="#1a2ab8" stroke-width="1.2"/>
<polygon points="500.4,535.0 506.8,535.0 503.6,543.0" fill="#1a2ab8"/>
<line x1="583.0" y1="522.0" x2="583.0" y2="536.0" stroke="#1a2ab8" stroke-width="1.2"/>
<polygon points="579.8,535.0 586.2,535.0 583.0,543.0" fill="#1a2ab8"/>
<line x1="659.0" y1="522.0" x2="659.0" y2="536.0" stroke="#1a2ab8" stroke-width="1.2"/>
<polygon points="655.8,535.0 662.2,535.0 659.0,543.0" fill="#1a2ab8"/>
<line x1="376.0" y1="612.4" x2="746.0" y2="612.4" stroke="#23236a" stroke-width="1.3"/>
<line x1="426.4" y1="590.0" x2="426.4" y2="605.4" stroke="#1a2ab8" stroke-width="1.2"/>
<polygon points="423.2,604.4 429.6,604.4 426.4,612.4" fill="#1a2ab8"/>
<line x1="503.6" y1="590.0" x2="503.6" y2="605.4" stroke="#1a2ab8" stroke-width="1.2"/>
<polygon points="500.4,604.4 506.8,604.4 503.6,612.4" fill="#1a2ab8"/>
<line x1="583.0" y1="590.0" x2="583.0" y2="605.4" stroke="#1a2ab8" stroke-width="1.2"/>
<polygon points="579.8,604.4 586.2,604.4 583.0,612.4" fill="#1a2ab8"/>
<line x1="659.0" y1="590.0" x2="659.0" y2="605.4" stroke="#1a2ab8" stroke-width="1.2"/>
<polygon points="655.8,604.4 662.2,604.4 659.0,612.4" fill="#1a2ab8"/>
<line x1="376.0" y1="698.0" x2="746.0" y2="698.0" stroke="#23236a" stroke-width="1.3"/>
<line x1="426.4" y1="676.0" x2="426.4" y2="691.0" stroke="#1a2ab8" stroke-width="1.2"/>
<polygon points="423.2,690.0 429.6,690.0 426.4,698.0" fill="#1a2ab8"/>
<line x1="503.6" y1="676.0" x2="503.6" y2="691.0" stroke="#1a2ab8" stroke-width="1.2"/>
<polygon points="500.4,690.0 506.8,690.0 503.6,698.0" fill="#1a2ab8"/>
<line x1="583.0" y1="676.0" x2="583.0" y2="691.0" stroke="#1a2ab8" stroke-width="1.2"/>
<polygon points="579.8,690.0 586.2,690.0 583.0,698.0" fill="#1a2ab8"/>
<line x1="659.0" y1="676.0" x2="659.0" y2="691.0" stroke="#1a2ab8" stroke-width="1.2"/>
<polygon points="655.8,690.0 662.2,690.0 659.0,698.0" fill="#1a2ab8"/>
<line x1="376.0" y1="802.4" x2="746.0" y2="802.4" stroke="#23236a" stroke-width="1.3"/>
<line x1="426.4" y1="780.0" x2="426.4" y2="795.4" stroke="#1a2ab8" stroke-width="1.2"/>
<polygon points="423.2,794.4 429.6,794.4 426.4,802.4" fill="#1a2ab8"/>
<line x1="503.6" y1="780.0" x2="503.6" y2="795.4" stroke="#1a2ab8" stroke-width="1.2"/>
<polygon points="500.4,794.4 506.8,794.4 503.6,802.4" fill="#1a2ab8"/>
<line x1="583.0" y1="780.0" x2="583.0" y2="795.4" stroke="#1a2ab8" stroke-width="1.2"/>
<polygon points="579.8,794.4 586.2,794.4 583.0,802.4" fill="#1a2ab8"/>
<line x1="659.0" y1="780.0" x2="659.0" y2="795.4" stroke="#1a2ab8" stroke-width="1.2"/>
<polygon points="655.8,794.4 662.2,794.4 659.0,802.4" fill="#1a2ab8"/>
<line x1="376.0" y1="880.0" x2="746.0" y2="880.0" stroke="#23236a" stroke-width="1.3"/>
<line x1="426.4" y1="857.0" x2="426.4" y2="873.0" stroke="#1a2ab8" stroke-width="1.2"/>
<polygon points="423.2,872.0 429.6,872.0 426.4,880.0" fill="#1a2ab8"/>
<line x1="503.6" y1="857.0" x2="503.6" y2="873.0" stroke="#1a2ab8" stroke-width="1.2"/>
<polygon points="500.4,872.0 506.8,872.0 503.6,880.0" fill="#1a2ab8"/>
<line x1="583.0" y1="857.0" x2="583.0" y2="873.0" stroke="#1a2ab8" stroke-width="1.2"/>
<polygon points="579.8,872.0 586.2,872.0 583.0,880.0" fill="#1a2ab8"/>
<line x1="659.0" y1="857.0" x2="659.0" y2="873.0" stroke="#1a2ab8" stroke-width="1.2"/>
<polygon points="655.8,872.0 662.2,872.0 659.0,880.0" fill="#1a2ab8"/>
<line x1="376.0" y1="955.0" x2="746.0" y2="955.0" stroke="#23236a" stroke-width="1.3"/>
<line x1="426.4" y1="932.0" x2="426.4" y2="948.0" stroke="#1a2ab8" stroke-width="1.2"/>
<polygon points="423.2,947.0 429.6,947.0 426.4,955.0" fill="#1a2ab8"/>
<line x1="503.6" y1="932.0" x2="503.6" y2="948.0" stroke="#1a2ab8" stroke-width="1.2"/>
<polygon points="500.4,947.0 506.8,947.0 503.6,955.0" fill="#1a2ab8"/>
<line x1="583.0" y1="932.0" x2="583.0" y2="948.0" stroke="#1a2ab8" stroke-width="1.2"/>
<polygon points="579.8,947.0 586.2,947.0 583.0,955.0" fill="#1a2ab8"/>
<line x1="659.0" y1="932.0" x2="659.0" y2="948.0" stroke="#1a2ab8" stroke-width="1.2"/>
<polygon points="655.8,947.0 662.2,947.0 659.0,955.0" fill="#1a2ab8"/>
<line x1="290.0" y1="802.4" x2="376.0" y2="802.4" stroke="#23236a" stroke-width="1.3"/>
<line x1="336.7" y1="780.0" x2="336.7" y2="795.4" stroke="#1a2ab8" stroke-width="1.2"/>
<polygon points="333.5,794.4 339.9,794.4 336.7,802.4" fill="#1a2ab8"/>
<line x1="292.0" y1="880.0" x2="376.0" y2="880.0" stroke="#23236a" stroke-width="1.3"/>
<line x1="337.0" y1="857.0" x2="337.0" y2="873.0" stroke="#1a2ab8" stroke-width="1.2"/>
<polygon points="333.8,872.0 340.2,872.0 337.0,880.0" fill="#1a2ab8"/>
<line x1="293.0" y1="955.0" x2="376.0" y2="955.0" stroke="#23236a" stroke-width="1.3"/>
<line x1="337.0" y1="932.0" x2="337.0" y2="948.0" stroke="#1a2ab8" stroke-width="1.2"/>
<polygon points="333.8,947.0 340.2,947.0 337.0,955.0" fill="#1a2ab8"/>
<line x1="746.0" y1="543.0" x2="746.0" y2="955.0" stroke="#23236a" stroke-width="1.3"/>
<rect x="390" y="550.4" width="343" height="38.60000000000002" fill="none" stroke="#666" stroke-width="1.2"/>
<line x1="397.0" y1="578.0" x2="677.0" y2="578.0" stroke="#30d8e8" stroke-width="1.3"/>
<line x1="408.0" y1="557.0" x2="408.0" y2="570.0" stroke="#30d8e8" stroke-width="1.2"/>
<polygon points="404.5,569.0 411.5,569.0 408.0,578.0" fill="#30d8e8"/>
<line x1="485.6" y1="557.0" x2="485.6" y2="570.0" stroke="#30d8e8" stroke-width="1.2"/>
<polygon points="482.1,569.0 489.1,569.0 485.6,578.0" fill="#30d8e8"/>
<line x1="565.0" y1="557.0" x2="565.0" y2="570.0" stroke="#30d8e8" stroke-width="1.2"/>
<polygon points="561.5,569.0 568.5,569.0 565.0,578.0" fill="#30d8e8"/>
<line x1="641.0" y1="557.0" x2="641.0" y2="570.0" stroke="#30d8e8" stroke-width="1.2"/>
<polygon points="637.5,569.0 644.5,569.0 641.0,578.0" fill="#30d8e8"/>
<rect x="390" y="636.6" width="343" height="38.39999999999998" fill="none" stroke="#666" stroke-width="1.2"/>
<line x1="397.0" y1="664.0" x2="677.0" y2="664.0" stroke="#e02a2a" stroke-width="1.3"/>
<line x1="408.0" y1="643.0" x2="408.0" y2="656.0" stroke="#e02a2a" stroke-width="1.2"/>
<polygon points="404.5,655.0 411.5,655.0 408.0,664.0" fill="#e02a2a"/>
<line x1="485.6" y1="643.0" x2="485.6" y2="656.0" stroke="#e02a2a" stroke-width="1.2"/>
<polygon points="482.1,655.0 489.1,655.0 485.6,664.0" fill="#e02a2a"/>
<line x1="565.0" y1="643.0" x2="565.0" y2="656.0" stroke="#e02a2a" stroke-width="1.2"/>
<polygon points="561.5,655.0 568.5,655.0 565.0,664.0" fill="#e02a2a"/>
<line x1="641.0" y1="643.0" x2="641.0" y2="656.0" stroke="#e02a2a" stroke-width="1.2"/>
<polygon points="637.5,655.0 644.5,655.0 641.0,664.0" fill="#e02a2a"/>
<rect x="304.7" y="818.4" width="428.3" height="38.60000000000002" fill="none" stroke="#666" stroke-width="1.2"/>
<line x1="311.7" y1="844.0" x2="677.0" y2="844.0" stroke="#30e030" stroke-width="1.3"/>
<line x1="408.0" y1="823.0" x2="408.0" y2="836.0" stroke="#30e030" stroke-width="1.2"/>
<polygon points="404.5,835.0 411.5,835.0 408.0,844.0" fill="#30e030"/>
<line x1="485.6" y1="823.0" x2="485.6" y2="836.0" stroke="#30e030" stroke-width="1.2"/>
<polygon points="482.1,835.0 489.1,835.0 485.6,844.0" fill="#30e030"/>
<line x1="565.0" y1="823.0" x2="565.0" y2="836.0" stroke="#30e030" stroke-width="1.2"/>
<polygon points="561.5,835.0 568.5,835.0 565.0,844.0" fill="#30e030"/>
<line x1="641.0" y1="823.0" x2="641.0" y2="836.0" stroke="#30e030" stroke-width="1.2"/>
<polygon points="637.5,835.0 644.5,835.0 641.0,844.0" fill="#30e030"/>
<rect x="304.7" y="904.4" width="428.3" height="38.60000000000002" fill="none" stroke="#666" stroke-width="1.2"/>
<line x1="311.7" y1="932.0" x2="677.0" y2="932.0" stroke="#e040e0" stroke-width="1.3"/>
<line x1="408.0" y1="911.0" x2="408.0" y2="924.0" stroke="#e040e0" stroke-width="1.2"/>
<polygon points="404.5,923.0 411.5,923.0 408.0,932.0" fill="#e040e0"/>
<line x1="485.6" y1="911.0" x2="485.6" y2="924.0" stroke="#e040e0" stroke-width="1.2"/>
<polygon points="482.1,923.0 489.1,923.0 485.6,932.0" fill="#e040e0"/>
<line x1="565.0" y1="911.0" x2="565.0" y2="924.0" stroke="#e040e0" stroke-width="1.2"/>
<polygon points="561.5,923.0 568.5,923.0 565.0,932.0" fill="#e040e0"/>
<line x1="641.0" y1="911.0" x2="641.0" y2="924.0" stroke="#e040e0" stroke-width="1.2"/>
<polygon points="637.5,923.0 644.5,923.0 641.0,932.0" fill="#e040e0"/>
<rect x="677.0" y="556.6" width="21.0" height="20.8" fill="#8ae8f0" stroke="#111" stroke-width="2.3"/>
<path d="M687.5,567.0 L678.2,557.7 L678.2,576.3 Z M687.5,567.0 L696.8,557.7 L696.8,576.3 Z" fill="#3cc8d0" opacity="0.55"/>
<line x1="679.6" y1="559.1" x2="695.4" y2="574.9" stroke="#2a1208" stroke-width="2.6"/>
<line x1="679.6" y1="574.9" x2="695.4" y2="559.1" stroke="#2a1208" stroke-width="2.6"/>
<rect x="701.0" y="556.6" width="21.0" height="20.8" fill="#8ae8f0" stroke="#111" stroke-width="2.3"/>
<path d="M711.5,567.0 L702.2,557.7 L702.2,576.3 Z M711.5,567.0 L720.8,557.7 L720.8,576.3 Z" fill="#3cc8d0" opacity="0.55"/>
<line x1="703.6" y1="559.1" x2="719.4" y2="574.9" stroke="#2a1208" stroke-width="2.6"/>
<line x1="703.6" y1="574.9" x2="719.4" y2="559.1" stroke="#2a1208" stroke-width="2.6"/>
<rect x="677.0" y="642.0" width="21.0" height="21.6" fill="#f05050" stroke="#111" stroke-width="2.3"/>
<path d="M687.5,652.8 L678.2,643.5 L678.2,662.1 Z M687.5,652.8 L696.8,643.5 L696.8,662.1 Z" fill="#d02020" opacity="0.55"/>
<line x1="679.6" y1="644.9" x2="695.4" y2="660.7" stroke="#2a1208" stroke-width="2.6"/>
<line x1="679.6" y1="660.7" x2="695.4" y2="644.9" stroke="#2a1208" stroke-width="2.6"/>
<rect x="701.0" y="642.0" width="21.0" height="21.6" fill="#f05050" stroke="#111" stroke-width="2.3"/>
<path d="M711.5,652.8 L702.2,643.5 L702.2,662.1 Z M711.5,652.8 L720.8,643.5 L720.8,662.1 Z" fill="#d02020" opacity="0.55"/>
<line x1="703.6" y1="644.9" x2="719.4" y2="660.7" stroke="#2a1208" stroke-width="2.6"/>
<line x1="703.6" y1="660.7" x2="719.4" y2="644.9" stroke="#2a1208" stroke-width="2.6"/>
<rect x="677.0" y="821.0" width="21.0" height="21.4" fill="#70e070" stroke="#111" stroke-width="2.3"/>
<path d="M687.5,831.7 L678.2,822.4 L678.2,841.0 Z M687.5,831.7 L696.8,822.4 L696.8,841.0 Z" fill="#30b030" opacity="0.55"/>
<line x1="679.6" y1="823.8" x2="695.4" y2="839.6" stroke="#2a1208" stroke-width="2.6"/>
<line x1="679.6" y1="839.6" x2="695.4" y2="823.8" stroke="#2a1208" stroke-width="2.6"/>
<rect x="701.0" y="821.0" width="21.0" height="21.4" fill="#70e070" stroke="#111" stroke-width="2.3"/>
<path d="M711.5,831.7 L702.2,822.4 L702.2,841.0 Z M711.5,831.7 L720.8,822.4 L720.8,841.0 Z" fill="#30b030" opacity="0.55"/>
<line x1="703.6" y1="823.8" x2="719.4" y2="839.6" stroke="#2a1208" stroke-width="2.6"/>
<line x1="703.6" y1="839.6" x2="719.4" y2="823.8" stroke="#2a1208" stroke-width="2.6"/>
<rect x="677.0" y="909.6" width="21.0" height="21.4" fill="#f060f0" stroke="#111" stroke-width="2.3"/>
<path d="M687.5,920.3 L678.2,911.0 L678.2,929.6 Z M687.5,920.3 L696.8,911.0 L696.8,929.6 Z" fill="#c030c0" opacity="0.55"/>
<line x1="679.6" y1="912.4" x2="695.4" y2="928.2" stroke="#2a1208" stroke-width="2.6"/>
<line x1="679.6" y1="928.2" x2="695.4" y2="912.4" stroke="#2a1208" stroke-width="2.6"/>
<rect x="701.0" y="909.6" width="21.0" height="21.4" fill="#f060f0" stroke="#111" stroke-width="2.3"/>
<path d="M711.5,920.3 L702.2,911.0 L702.2,929.6 Z M711.5,920.3 L720.8,911.0 L720.8,929.6 Z" fill="#c030c0" opacity="0.55"/>
<line x1="703.6" y1="912.4" x2="719.4" y2="928.2" stroke="#2a1208" stroke-width="2.6"/>
<line x1="703.6" y1="928.2" x2="719.4" y2="912.4" stroke="#2a1208" stroke-width="2.6"/>
<text x="599.0" y="565.0" font-size="18" font-weight="bold" fill="#000" stroke="#000" stroke-width="0.45" text-anchor="start">15/1+2E</text>
<text x="599.0" y="652.0" font-size="18" font-weight="bold" fill="#000" stroke="#000" stroke-width="0.45" text-anchor="start">16/1+2E</text>
<text x="599.0" y="832.0" font-size="18" font-weight="bold" fill="#000" stroke="#000" stroke-width="0.45" text-anchor="start">17/1+2E</text>
<text x="600.0" y="919.0" font-size="18" font-weight="bold" fill="#000" stroke="#000" stroke-width="0.45" text-anchor="start">18/1+2E</text>
<polygon points="735.0,555.5 735.0,555.5 737.6,555.7 738.6,550.3 742.0,551.3 740.1,556.4 742.4,557.6 745.3,552.9 748.1,555.1 744.4,559.2 746.2,561.1 750.6,557.7 752.5,560.8 747.5,563.3 748.5,565.7 753.8,564.2 754.4,567.7 748.9,568.2 748.9,570.8 754.4,571.3 753.8,574.8 748.5,573.3 747.5,575.7 752.5,578.2 750.6,581.3 746.2,577.9 744.4,579.8 748.1,583.9 745.3,586.1 742.4,581.4 740.1,582.6 742.0,587.7 738.6,588.7 737.6,583.3 735.0,583.5 735.0,583.5" fill="#f08a10"/>
<polygon points="735.0,642.8 735.0,642.8 737.6,643.0 738.6,637.6 742.0,638.6 740.1,643.7 742.4,644.9 745.3,640.2 748.1,642.4 744.4,646.5 746.2,648.4 750.6,645.0 752.5,648.1 747.5,650.6 748.5,653.0 753.8,651.5 754.4,655.0 748.9,655.5 748.9,658.1 754.4,658.6 753.8,662.1 748.5,660.6 747.5,663.0 752.5,665.5 750.6,668.6 746.2,665.2 744.4,667.1 748.1,671.2 745.3,673.4 742.4,668.7 740.1,669.9 742.0,675.0 738.6,676.0 737.6,670.6 735.0,670.8 735.0,670.8" fill="#f08a10"/>
<polygon points="735.0,821.0 735.0,821.0 737.6,821.2 738.6,815.8 742.0,816.8 740.1,821.9 742.4,823.1 745.3,818.4 748.1,820.6 744.4,824.7 746.2,826.6 750.6,823.2 752.5,826.3 747.5,828.8 748.5,831.2 753.8,829.7 754.4,833.2 748.9,833.7 748.9,836.3 754.4,836.8 753.8,840.3 748.5,838.8 747.5,841.2 752.5,843.7 750.6,846.8 746.2,843.4 744.4,845.3 748.1,849.4 745.3,851.6 742.4,846.9 740.1,848.1 742.0,853.2 738.6,854.2 737.6,848.8 735.0,849.0 735.0,849.0" fill="#f08a10"/>
<polygon points="735.0,909.0 735.0,909.0 737.6,909.2 738.6,903.8 742.0,904.8 740.1,909.9 742.4,911.1 745.3,906.4 748.1,908.6 744.4,912.7 746.2,914.6 750.6,911.2 752.5,914.3 747.5,916.8 748.5,919.2 753.8,917.7 754.4,921.2 748.9,921.7 748.9,924.3 754.4,924.8 753.8,928.3 748.5,926.8 747.5,929.2 752.5,931.7 750.6,934.8 746.2,931.4 744.4,933.3 748.1,937.4 745.3,939.6 742.4,934.9 740.1,936.1 742.0,941.2 738.6,942.2 737.6,936.8 735.0,937.0 735.0,937.0" fill="#f08a10"/>
<circle cx="713.0" cy="543.0" r="12.4" fill="#1c1c8c" stroke="#0a0a40" stroke-width="1.5"/>
<line x1="706.2" y1="536.2" x2="719.8" y2="549.8" stroke="#0a0a50" stroke-width="1.5"/>
<line x1="706.2" y1="549.8" x2="719.8" y2="536.2" stroke="#0a0a50" stroke-width="1.5"/>
<circle cx="713.0" cy="612.0" r="12.4" fill="#1c1c8c" stroke="#0a0a40" stroke-width="1.5"/>
<line x1="706.2" y1="605.2" x2="719.8" y2="618.8" stroke="#0a0a50" stroke-width="1.5"/>
<line x1="706.2" y1="618.8" x2="719.8" y2="605.2" stroke="#0a0a50" stroke-width="1.5"/>
<circle cx="713.0" cy="698.0" r="12.4" fill="#1c1c8c" stroke="#0a0a40" stroke-width="1.5"/>
<line x1="706.2" y1="691.2" x2="719.8" y2="704.8" stroke="#0a0a50" stroke-width="1.5"/>
<line x1="706.2" y1="704.8" x2="719.8" y2="691.2" stroke="#0a0a50" stroke-width="1.5"/>
<circle cx="713.0" cy="802.4" r="12.4" fill="#1c1c8c" stroke="#0a0a40" stroke-width="1.5"/>
<line x1="706.2" y1="795.6" x2="719.8" y2="809.2" stroke="#0a0a50" stroke-width="1.5"/>
<line x1="706.2" y1="809.2" x2="719.8" y2="795.6" stroke="#0a0a50" stroke-width="1.5"/>
<circle cx="713.0" cy="880.0" r="12.4" fill="#1c1c8c" stroke="#0a0a40" stroke-width="1.5"/>
<line x1="706.2" y1="873.2" x2="719.8" y2="886.8" stroke="#0a0a50" stroke-width="1.5"/>
<line x1="706.2" y1="886.8" x2="719.8" y2="873.2" stroke="#0a0a50" stroke-width="1.5"/>
<circle cx="713.0" cy="955.0" r="12.4" fill="#1c1c8c" stroke="#0a0a40" stroke-width="1.5"/>
<line x1="706.2" y1="948.2" x2="719.8" y2="961.8" stroke="#0a0a50" stroke-width="1.5"/>
<line x1="706.2" y1="961.8" x2="719.8" y2="948.2" stroke="#0a0a50" stroke-width="1.5"/>
<text x="661.0" y="543.0" font-size="18" font-weight="bold" fill="#000" stroke="#000" stroke-width="0.45" text-anchor="start">19/1</text>
<text x="657.0" y="627.0" font-size="18" font-weight="bold" fill="#000" stroke="#000" stroke-width="0.45" text-anchor="start">13/1</text>
<text x="694.0" y="640.0" font-size="18" font-weight="bold" fill="#000" stroke="#000" stroke-width="0.45" text-anchor="start">19/2</text>
<text x="663.0" y="714.0" font-size="18" font-weight="bold" fill="#000" stroke="#000" stroke-width="0.45" text-anchor="start">19/3</text>
<text x="663.0" y="795.0" font-size="18" font-weight="bold" fill="#000" stroke="#000" stroke-width="0.45" text-anchor="start">19/4</text>
<text x="693.0" y="865.0" font-size="18" font-weight="bold" fill="#000" stroke="#000" stroke-width="0.45" text-anchor="start">19/5</text>
<text x="650.0" y="968.0" font-size="18" font-weight="bold" fill="#000" stroke="#000" stroke-width="0.45" text-anchor="start">19/6E</text>
<text x="728.0" y="716.0" font-size="18" font-weight="bold" fill="#000" stroke="#000" stroke-width="0.45" text-anchor="start">21/3</text>
<rect x="728.0" y="590.0" width="20.0" height="20.0" fill="#c8553a" stroke="#111" stroke-width="2"/>
<circle cx="738.0" cy="600.0" r="6.5" fill="#111"/>
<rect x="729.0" y="677.0" width="20.0" height="20.0" fill="#c8553a" stroke="#111" stroke-width="2"/>
<circle cx="739.0" cy="687.0" r="6.5" fill="#111"/>
<rect x="734.0" y="855.6" width="21.0" height="19.4" fill="#c8553a" stroke="#111" stroke-width="2"/>
<circle cx="744.5" cy="865.3" r="7.0" fill="#111"/>
<rect x="734.0" y="943.6" width="21.0" height="19.4" fill="#c8553a" stroke="#111" stroke-width="2"/>
<circle cx="744.5" cy="953.3" r="7.0" fill="#111"/>
<text x="0" y="0" font-size="18" font-weight="bold" fill="#000" stroke="#000" stroke-width="0.45" text-anchor="middle" dominant-baseline="central" transform="translate(757.0,613.0) rotate(-90)">21/4E</text>
<text x="0" y="0" font-size="18" font-weight="bold" fill="#000" stroke="#000" stroke-width="0.45" text-anchor="middle" dominant-baseline="central" transform="translate(764.5,864.0) rotate(-90)">21/2</text>
<text x="0" y="0" font-size="18" font-weight="bold" fill="#000" stroke="#000" stroke-width="0.45" text-anchor="middle" dominant-baseline="central" transform="translate(765.0,947.0) rotate(-90)">21/1</text>
<polygon points="777.0,769.0 766.0,757.5 766.0,780.5" fill="none" stroke="#d42626" stroke-width="2.2" stroke-linejoin="miter"/>
<rect x="727.6" y="758.4" width="36.4" height="29.2" fill="#1c3cd8"/>
<text x="745.8" y="779.0" font-size="15" font-weight="bold" fill="#fff" stroke="#fff" stroke-width="0.45" text-anchor="middle">RAS</text>
<polygon points="758.0,658.0 772.0,664.0 772.0,680.0 758.0,684.3" fill="none" stroke="#d42626" stroke-width="2" stroke-linejoin="miter"/>
<rect x="772.0" y="664.0" width="11.7" height="16.0" fill="none" stroke="#d42626" stroke-width="2"/>
<circle cx="375.0" cy="599.0" r="10.0" fill="#7e24b0" stroke="#1a1a1a" stroke-width="1.6"/>
<path d="M375.0,599.0 L368.8,592.8 A9.0,9.0 0 0 1 381.2,592.8 Z M375.0,599.0 L381.2,605.2 A9.0,9.0 0 0 1 368.8,605.2 Z" fill="#a848d8"/>
<line x1="368.0" y1="592.0" x2="382.0" y2="606.0" stroke="#222" stroke-width="1.6"/>
<line x1="368.0" y1="606.0" x2="382.0" y2="592.0" stroke="#222" stroke-width="1.6"/>
<rect x="387.0" y="588.6" width="21.5" height="21.0" fill="#f0b070" stroke="#111" stroke-width="2.3"/>
<path d="M397.8,599.1 L388.2,589.6 L388.2,608.6 Z M397.8,599.1 L407.3,589.6 L407.3,608.6 Z" fill="#e08a4a" opacity="0.55"/>
<line x1="389.6" y1="591.0" x2="405.9" y2="607.2" stroke="#2a1208" stroke-width="2.6"/>
<line x1="389.6" y1="607.2" x2="405.9" y2="591.0" stroke="#2a1208" stroke-width="2.6"/>
<circle cx="539.0" cy="599.4" r="10.0" fill="#7e24b0" stroke="#1a1a1a" stroke-width="1.6"/>
<path d="M539.0,599.4 L532.8,593.2 A9.0,9.0 0 0 1 545.2,593.2 Z M539.0,599.4 L545.2,605.6 A9.0,9.0 0 0 1 532.8,605.6 Z" fill="#a848d8"/>
<line x1="532.0" y1="592.4" x2="546.0" y2="606.4" stroke="#222" stroke-width="1.6"/>
<line x1="532.0" y1="606.4" x2="546.0" y2="592.4" stroke="#222" stroke-width="1.6"/>
<rect x="552.0" y="590.0" width="21.5" height="21.0" fill="#f0b070" stroke="#111" stroke-width="2.3"/>
<path d="M562.8,600.5 L553.2,591.0 L553.2,610.0 Z M562.8,600.5 L572.3,591.0 L572.3,610.0 Z" fill="#e08a4a" opacity="0.55"/>
<line x1="554.6" y1="592.4" x2="570.9" y2="608.6" stroke="#2a1208" stroke-width="2.6"/>
<line x1="554.6" y1="608.6" x2="570.9" y2="592.4" stroke="#2a1208" stroke-width="2.6"/>
<circle cx="375.0" cy="746.0" r="10.0" fill="#7e24b0" stroke="#1a1a1a" stroke-width="1.6"/>
<path d="M375.0,746.0 L368.8,739.8 A9.0,9.0 0 0 1 381.2,739.8 Z M375.0,746.0 L381.2,752.2 A9.0,9.0 0 0 1 368.8,752.2 Z" fill="#a848d8"/>
<line x1="368.0" y1="739.0" x2="382.0" y2="753.0" stroke="#222" stroke-width="1.6"/>
<line x1="368.0" y1="753.0" x2="382.0" y2="739.0" stroke="#222" stroke-width="1.6"/>
<rect x="388.0" y="736.0" width="21.5" height="21.0" fill="#f0b070" stroke="#111" stroke-width="2.3"/>
<path d="M398.8,746.5 L389.2,737.0 L389.2,756.0 Z M398.8,746.5 L408.3,737.0 L408.3,756.0 Z" fill="#e08a4a" opacity="0.55"/>
<line x1="390.6" y1="738.4" x2="406.9" y2="754.6" stroke="#2a1208" stroke-width="2.6"/>
<line x1="390.6" y1="754.6" x2="406.9" y2="738.4" stroke="#2a1208" stroke-width="2.6"/>
<circle cx="539.0" cy="747.0" r="10.0" fill="#7e24b0" stroke="#1a1a1a" stroke-width="1.6"/>
<path d="M539.0,747.0 L532.8,740.8 A9.0,9.0 0 0 1 545.2,740.8 Z M539.0,747.0 L545.2,753.2 A9.0,9.0 0 0 1 532.8,753.2 Z" fill="#a848d8"/>
<line x1="532.0" y1="740.0" x2="546.0" y2="754.0" stroke="#222" stroke-width="1.6"/>
<line x1="532.0" y1="754.0" x2="546.0" y2="740.0" stroke="#222" stroke-width="1.6"/>
<rect x="552.0" y="735.6" width="21.5" height="21.0" fill="#f0b070" stroke="#111" stroke-width="2.3"/>
<path d="M562.8,746.1 L553.2,736.6 L553.2,755.6 Z M562.8,746.1 L572.3,736.6 L572.3,755.6 Z" fill="#e08a4a" opacity="0.55"/>
<line x1="554.6" y1="738.0" x2="570.9" y2="754.2" stroke="#2a1208" stroke-width="2.6"/>
<line x1="554.6" y1="754.2" x2="570.9" y2="738.0" stroke="#2a1208" stroke-width="2.6"/>
<circle cx="375.6" cy="893.7" r="10.0" fill="#7e24b0" stroke="#1a1a1a" stroke-width="1.6"/>
<path d="M375.6,893.7 L369.4,887.5 A9.0,9.0 0 0 1 381.8,887.5 Z M375.6,893.7 L381.8,899.9 A9.0,9.0 0 0 1 369.4,899.9 Z" fill="#a848d8"/>
<line x1="368.6" y1="886.7" x2="382.6" y2="900.7" stroke="#222" stroke-width="1.6"/>
<line x1="368.6" y1="900.7" x2="382.6" y2="886.7" stroke="#222" stroke-width="1.6"/>
<rect x="388.0" y="883.8" width="21.5" height="21.0" fill="#f0b070" stroke="#111" stroke-width="2.3"/>
<path d="M398.8,894.3 L389.2,884.8 L389.2,903.8 Z M398.8,894.3 L408.3,884.8 L408.3,903.8 Z" fill="#e08a4a" opacity="0.55"/>
<line x1="390.6" y1="886.2" x2="406.9" y2="902.4" stroke="#2a1208" stroke-width="2.6"/>
<line x1="390.6" y1="902.4" x2="406.9" y2="886.2" stroke="#2a1208" stroke-width="2.6"/>
<circle cx="539.0" cy="893.6" r="10.0" fill="#7e24b0" stroke="#1a1a1a" stroke-width="1.6"/>
<path d="M539.0,893.6 L532.8,887.4 A9.0,9.0 0 0 1 545.2,887.4 Z M539.0,893.6 L545.2,899.8 A9.0,9.0 0 0 1 532.8,899.8 Z" fill="#a848d8"/>
<line x1="532.0" y1="886.6" x2="546.0" y2="900.6" stroke="#222" stroke-width="1.6"/>
<line x1="532.0" y1="900.6" x2="546.0" y2="886.6" stroke="#222" stroke-width="1.6"/>
<rect x="552.6" y="883.0" width="21.5" height="21.0" fill="#f0b070" stroke="#111" stroke-width="2.3"/>
<path d="M563.4,893.5 L553.8,884.0 L553.8,903.0 Z M563.4,893.5 L572.9,884.0 L572.9,903.0 Z" fill="#e08a4a" opacity="0.55"/>
<line x1="555.2" y1="885.4" x2="571.5" y2="901.6" stroke="#2a1208" stroke-width="2.6"/>
<line x1="555.2" y1="901.6" x2="571.5" y2="885.4" stroke="#2a1208" stroke-width="2.6"/>
<circle cx="689.4" cy="599.0" r="10.0" fill="#7e24b0" stroke="#1a1a1a" stroke-width="1.6"/>
<path d="M689.4,599.0 L683.2,592.8 A9.0,9.0 0 0 1 695.6,592.8 Z M689.4,599.0 L695.6,605.2 A9.0,9.0 0 0 1 683.2,605.2 Z" fill="#a848d8"/>
<line x1="682.4" y1="592.0" x2="696.4" y2="606.0" stroke="#222" stroke-width="1.6"/>
<line x1="682.4" y1="606.0" x2="696.4" y2="592.0" stroke="#222" stroke-width="1.6"/>
<circle cx="689.0" cy="747.0" r="10.0" fill="#7e24b0" stroke="#1a1a1a" stroke-width="1.6"/>
<path d="M689.0,747.0 L682.8,740.8 A9.0,9.0 0 0 1 695.2,740.8 Z M689.0,747.0 L695.2,753.2 A9.0,9.0 0 0 1 682.8,753.2 Z" fill="#a848d8"/>
<line x1="682.0" y1="740.0" x2="696.0" y2="754.0" stroke="#222" stroke-width="1.6"/>
<line x1="682.0" y1="754.0" x2="696.0" y2="740.0" stroke="#222" stroke-width="1.6"/>
<circle cx="689.4" cy="893.6" r="10.0" fill="#7e24b0" stroke="#1a1a1a" stroke-width="1.6"/>
<path d="M689.4,893.6 L683.2,887.4 A9.0,9.0 0 0 1 695.6,887.4 Z M689.4,893.6 L695.6,899.8 A9.0,9.0 0 0 1 683.2,899.8 Z" fill="#a848d8"/>
<line x1="682.4" y1="886.6" x2="696.4" y2="900.6" stroke="#222" stroke-width="1.6"/>
<line x1="682.4" y1="900.6" x2="696.4" y2="886.6" stroke="#222" stroke-width="1.6"/>
<text x="355.6" y="585.0" font-size="18" font-weight="bold" fill="#000" stroke="#000" stroke-width="0.45" text-anchor="start">13/7</text>
<text x="381.0" y="629.0" font-size="18" font-weight="bold" fill="#000" stroke="#000" stroke-width="0.45" text-anchor="start">11/3</text>
<text x="519.0" y="588.0" font-size="18" font-weight="bold" fill="#000" stroke="#000" stroke-width="0.45" text-anchor="start">13/6</text>
<text x="546.0" y="630.0" font-size="18" font-weight="bold" fill="#000" stroke="#000" stroke-width="0.45" text-anchor="start">11/4</text>
<text x="381.6" y="731.0" font-size="18" font-weight="bold" fill="#000" stroke="#000" stroke-width="0.45" text-anchor="start">11/2</text>
<text x="358.0" y="775.0" font-size="18" font-weight="bold" fill="#000" stroke="#000" stroke-width="0.45" text-anchor="start">13/8</text>
<text x="520.0" y="777.0" font-size="18" font-weight="bold" fill="#000" stroke="#000" stroke-width="0.45" text-anchor="start">13/5</text>
<text x="576.0" y="757.0" font-size="18" font-weight="bold" fill="#000" stroke="#000" stroke-width="0.45" text-anchor="start">11/5</text>
<text x="641.0" y="754.0" font-size="18" font-weight="bold" fill="#000" stroke="#000" stroke-width="0.45" text-anchor="start">13/2</text>
<text x="664.0" y="775.0" font-size="18" font-weight="bold" fill="#000" stroke="#000" stroke-width="0.45" text-anchor="start">20/1E</text>
<text x="313.0" y="901.0" font-size="18" font-weight="bold" fill="#000" stroke="#000" stroke-width="0.45" text-anchor="start">13/9E</text>
<text x="414.5" y="901.0" font-size="18" font-weight="bold" fill="#000" stroke="#000" stroke-width="0.45" text-anchor="start">11/1</text>
<text x="489.6" y="900.0" font-size="18" font-weight="bold" fill="#000" stroke="#000" stroke-width="0.45" text-anchor="start">13/4</text>
<text x="579.0" y="900.0" font-size="18" font-weight="bold" fill="#000" stroke="#000" stroke-width="0.45" text-anchor="start">11/6E</text>
<text x="641.0" y="900.0" font-size="18" font-weight="bold" fill="#000" stroke="#000" stroke-width="0.45" text-anchor="start">13/3</text>
<text x="460.0" y="729.0" font-size="23" font-weight="bold" fill="#000" stroke="#000" stroke-width="0.45" textLength="196.0" lengthAdjust="spacingAndGlyphs">EDV Rechnerraum</text>
<text x="470.0" y="748.0" font-size="20" font-weight="bold" fill="#000" stroke="#000" stroke-width="0.45" textLength="32.0" lengthAdjust="spacingAndGlyphs">E11</text>
<text x="504.0" y="503.0" font-size="18" font-weight="bold" fill="#000" stroke="#000" stroke-width="0.45" textLength="96.0" lengthAdjust="spacingAndGlyphs">Oberlichten</text>
<text x="421.0" y="1015.6" font-size="18" font-weight="bold" fill="#000" stroke="#000" stroke-width="0.45" textLength="96.0" lengthAdjust="spacingAndGlyphs">Oberlichten</text>
<circle cx="276.4" cy="861.0" r="8.5" fill="#e01818"/>
<line x1="276.4" y1="861.0" x2="276.4" y2="1015.6" stroke="#d42626" stroke-width="2"/>
<rect x="218.0" y="1015.6" width="165.0" height="73.4" fill="none" stroke="#d42626" stroke-width="2"/>
<rect x="224.0" y="1020.0" width="15.5" height="14.0" fill="#c060e8" stroke="#111" stroke-width="2.3"/>
<path d="M231.8,1027.0 L225.2,1020.5 L225.2,1033.5 Z M231.8,1027.0 L238.3,1020.5 L238.3,1033.5 Z" fill="#9b2fc4" opacity="0.55"/>
<line x1="226.2" y1="1021.4" x2="237.3" y2="1032.6" stroke="#2a1208" stroke-width="2.6"/>
<line x1="226.2" y1="1032.6" x2="237.3" y2="1021.4" stroke="#2a1208" stroke-width="2.6"/>
<text x="245.0" y="1032.5" font-size="14.5" font-weight="bold" fill="#000" stroke="#000" stroke-width="0.45" text-anchor="start">22/1E Störung</text>
<rect x="224.0" y="1037.0" width="15.5" height="14.0" fill="#90e8f0" stroke="#111" stroke-width="2.3"/>
<path d="M231.8,1044.0 L225.2,1037.5 L225.2,1050.5 Z M231.8,1044.0 L238.3,1037.5 L238.3,1050.5 Z" fill="#40c0d0" opacity="0.55"/>
<line x1="226.2" y1="1038.4" x2="237.3" y2="1049.6" stroke="#2a1208" stroke-width="2.6"/>
<line x1="226.2" y1="1049.6" x2="237.3" y2="1038.4" stroke="#2a1208" stroke-width="2.6"/>
<text x="245.0" y="1049.5" font-size="14.5" font-weight="bold" fill="#000" stroke="#000" stroke-width="0.45" text-anchor="start">23/1E Infoalarm</text>
<rect x="224.0" y="1054.0" width="15.5" height="14.0" fill="#e09070" stroke="#111" stroke-width="2.3"/>
<path d="M231.8,1061.0 L225.2,1054.5 L225.2,1067.5 Z M231.8,1061.0 L238.3,1054.5 L238.3,1067.5 Z" fill="#c0603a" opacity="0.55"/>
<line x1="226.2" y1="1055.4" x2="237.3" y2="1066.6" stroke="#2a1208" stroke-width="2.6"/>
<line x1="226.2" y1="1066.6" x2="237.3" y2="1055.4" stroke="#2a1208" stroke-width="2.6"/>
<text x="245.0" y="1066.5" font-size="14.5" font-weight="bold" fill="#000" stroke="#000" stroke-width="0.45" text-anchor="start">24/1E Voralarm</text>
<rect x="224.0" y="1071.0" width="15.5" height="14.0" fill="#70d070" stroke="#111" stroke-width="2.3"/>
<path d="M231.8,1078.0 L225.2,1071.5 L225.2,1084.5 Z M231.8,1078.0 L238.3,1071.5 L238.3,1084.5 Z" fill="#30a040" opacity="0.55"/>
<line x1="226.2" y1="1072.4" x2="237.3" y2="1083.6" stroke="#2a1208" stroke-width="2.6"/>
<line x1="226.2" y1="1083.6" x2="237.3" y2="1072.4" stroke="#2a1208" stroke-width="2.6"/>
<text x="245.0" y="1083.5" font-size="14.5" font-weight="bold" fill="#000" stroke="#000" stroke-width="0.45" text-anchor="start">25/1E Hauptalarm</text>
<rect x="218.0" y="691.0" width="13.0" height="61.0" fill="#f4f4f4"/>
<line x1="188.4" y1="690.5" x2="219.7" y2="690.5" stroke="#111" stroke-width="1.2"/>
<line x1="188.4" y1="752.2" x2="219.7" y2="752.2" stroke="#111" stroke-width="1.2"/>
<path d="M188.4,690.5 A31.3,31.3 0 0 0 196.5,712.0" stroke="#111" stroke-width="1.1" fill="none"/>
<path d="M188.4,752.2 A31.3,31.3 0 0 1 197.2,729.3" stroke="#111" stroke-width="1.1" fill="none"/>
<line x1="293.0" y1="690.5" x2="322.6" y2="690.5" stroke="#111" stroke-width="1.2"/>
<line x1="293.0" y1="752.2" x2="322.6" y2="752.2" stroke="#111" stroke-width="1.2"/>
<path d="M293.0,690.5 A30.4,30.4 0 0 0 303.0,712.0" stroke="#111" stroke-width="1.1" fill="none"/>
<path d="M293.0,752.2 A30.4,30.4 0 0 1 303.0,729.3" stroke="#111" stroke-width="1.1" fill="none"/>
<polygon points="184.4,717.3 208.5,702.0 208.5,709.7 238.1,709.7 238.1,724.1 208.5,724.1 208.5,732.0" fill="#22e010" stroke="#0c300c" stroke-width="2.5" stroke-linejoin="miter"/>
<rect x="232.0" y="670.6" width="19.0" height="19.0" fill="#c8553a" stroke="#111" stroke-width="2"/>
<circle cx="241.5" cy="680.1" r="6.0" fill="#111"/>
<text x="256.5" y="679.7" font-size="18" font-weight="bold" fill="#000" stroke="#000" stroke-width="0.45" text-anchor="start">12/1</text>
<circle cx="276.2" cy="703.7" r="10.0" fill="#40b8c8" stroke="#1a1a1a" stroke-width="1.6"/>
<path d="M276.2,703.7 L270.0,697.5 A9.0,9.0 0 0 1 282.4,697.5 Z M276.2,703.7 L282.4,709.9 A9.0,9.0 0 0 1 270.0,709.9 Z" fill="#80e0f0"/>
<line x1="269.2" y1="696.7" x2="283.2" y2="710.7" stroke="#222" stroke-width="1.6"/>
<line x1="269.2" y1="710.7" x2="283.2" y2="696.7" stroke="#222" stroke-width="1.6"/>
<text x="245.0" y="732.0" font-size="18" font-weight="bold" fill="#000" stroke="#000" stroke-width="0.45" text-anchor="start">14/1</text>
<rect x="262.0" y="739.3" width="21.4" height="20.1" fill="none" stroke="#e0a050" stroke-width="2.2"/>
<circle cx="272.7" cy="749.0" r="3.5" fill="#f08a20"/>
<rect x="304.0" y="711.0" width="34.7" height="19.0" fill="#fafafa" stroke="#c81e1e" stroke-width="2.6"/>
<text x="321.4" y="725.6" font-size="14.1" font-weight="bold" fill="#000" stroke="#000" stroke-width="0.3" text-anchor="middle">T30</text>
<text x="817.7" y="548.0" font-size="23" font-weight="bold" fill="#000" stroke="#000" stroke-width="0.45" textLength="104.5" lengthAdjust="spacingAndGlyphs">Teeküche</text>
<text x="855.8" y="567.5" font-size="20" font-weight="bold" fill="#000" stroke="#000" stroke-width="0.45" textLength="33.8" lengthAdjust="spacingAndGlyphs">E10</text>
<circle cx="868.9" cy="594.7" r="9.8" fill="#f4f4f4" stroke="#111" stroke-width="1.6"/>
<path d="M868.9,594.7 L862,601.6 A9.8,9.8 0 0 0 875.8,601.6 Z M868.9,594.7 L862,587.8 A9.8,9.8 0 0 0 862,601.6 Z M868.9,594.7 L875.8,587.8 A9.8,9.8 0 0 1 875.8,601.6 Z" fill="#1c2ab0"/>
<line x1="862.0" y1="587.8" x2="875.8" y2="601.6" stroke="#111" stroke-width="1.6"/>
<line x1="862.0" y1="601.6" x2="875.8" y2="587.8" stroke="#111" stroke-width="1.6"/>
<text x="855.8" y="625.2" font-size="18" font-weight="bold" fill="#000" stroke="#000" stroke-width="0.45" textLength="40.2" lengthAdjust="spacingAndGlyphs">4/1E</text>
<text x="981.0" y="573.0" font-size="20" font-weight="bold" fill="#000" stroke="#000" stroke-width="0.45" textLength="32.7" lengthAdjust="spacingAndGlyphs">E09</text>
<circle cx="1010.0" cy="596.3" r="10.0" fill="#7e24b0" stroke="#1a1a1a" stroke-width="1.6"/>
<path d="M1010.0,596.3 L1003.8,590.1 A9.0,9.0 0 0 1 1016.2,590.1 Z M1010.0,596.3 L1016.2,602.5 A9.0,9.0 0 0 1 1003.8,602.5 Z" fill="#a848d8"/>
<line x1="1003.0" y1="589.3" x2="1017.0" y2="603.3" stroke="#222" stroke-width="1.6"/>
<line x1="1003.0" y1="603.3" x2="1017.0" y2="589.3" stroke="#222" stroke-width="1.6"/>
<text x="993.0" y="623.0" font-size="18" font-weight="bold" fill="#000" stroke="#000" stroke-width="0.45" text-anchor="start">2/4</text>
<text x="1039.8" y="606.7" font-size="24" font-weight="bold" fill="#000" stroke="#000" stroke-width="0.45" textLength="86.0" lengthAdjust="spacingAndGlyphs">WR/WC</text>
<text x="1193.4" y="603.4" font-size="18" font-weight="bold" fill="#000" stroke="#000" stroke-width="0.45" text-anchor="start">9/4</text>
<rect x="1197.7" y="610.6" width="20.7" height="21.1" fill="#f8f890" stroke="#111" stroke-width="2.3"/>
<path d="M1208.1,621.2 L1198.9,612.0 L1198.9,630.3 Z M1208.1,621.2 L1217.2,612.0 L1217.2,630.3 Z" fill="#e8e040" opacity="0.55"/>
<line x1="1200.3" y1="613.4" x2="1215.8" y2="628.9" stroke="#2a1208" stroke-width="2.6"/>
<line x1="1200.3" y1="628.9" x2="1215.8" y2="613.4" stroke="#2a1208" stroke-width="2.6"/>
<circle cx="1208.0" cy="646.0" r="10.0" fill="#7e24b0" stroke="#1a1a1a" stroke-width="1.6"/>
<path d="M1208.0,646.0 L1201.8,639.8 A9.0,9.0 0 0 1 1214.2,639.8 Z M1208.0,646.0 L1214.2,652.2 A9.0,9.0 0 0 1 1201.8,652.2 Z" fill="#a848d8"/>
<line x1="1201.0" y1="639.0" x2="1215.0" y2="653.0" stroke="#222" stroke-width="1.6"/>
<line x1="1201.0" y1="653.0" x2="1215.0" y2="639.0" stroke="#222" stroke-width="1.6"/>
<text x="1192.0" y="673.0" font-size="18" font-weight="bold" fill="#000" stroke="#000" stroke-width="0.45" text-anchor="start">2/5</text>
<path d="M907.0,680.7 A30.0,30.0 0 0 1 936.4,650.5" stroke="#111" stroke-width="1.1" fill="none"/>
<line x1="936.4" y1="650.5" x2="936.4" y2="680.7" stroke="#111" stroke-width="1.2"/>
<path d="M997.4,680.7 A30.0,30.0 0 0 1 1028.0,650.5" stroke="#111" stroke-width="1.1" fill="none"/>
<line x1="1028.0" y1="650.5" x2="1028.0" y2="680.7" stroke="#111" stroke-width="1.2"/>
<text x="943.0" y="710.0" font-size="18" font-weight="bold" fill="#000" stroke="#000" stroke-width="0.45" text-anchor="start">2/3</text>
<circle cx="960.0" cy="726.5" r="10.0" fill="#7e24b0" stroke="#1a1a1a" stroke-width="1.6"/>
<path d="M960.0,726.5 L953.8,720.3 A9.0,9.0 0 0 1 966.2,720.3 Z M960.0,726.5 L966.2,732.7 A9.0,9.0 0 0 1 953.8,732.7 Z" fill="#a848d8"/>
<line x1="953.0" y1="719.5" x2="967.0" y2="733.5" stroke="#222" stroke-width="1.6"/>
<line x1="953.0" y1="733.5" x2="967.0" y2="719.5" stroke="#222" stroke-width="1.6"/>
<rect x="971.7" y="714.5" width="21.7" height="20.7" fill="#f8f890" stroke="#111" stroke-width="2.3"/>
<path d="M982.5,724.9 L972.9,715.2 L972.9,734.5 Z M982.5,724.9 L992.2,715.2 L992.2,734.5 Z" fill="#e8e040" opacity="0.55"/>
<line x1="974.3" y1="716.6" x2="990.8" y2="733.1" stroke="#2a1208" stroke-width="2.6"/>
<line x1="974.3" y1="733.1" x2="990.8" y2="716.6" stroke="#2a1208" stroke-width="2.6"/>
<text x="997.4" y="728.6" font-size="18" font-weight="bold" fill="#000" stroke="#000" stroke-width="0.45" text-anchor="start">9/3</text>
<rect x="772.0" y="711.0" width="36.0" height="18.7" fill="#fafafa" stroke="#c81e1e" stroke-width="2.6"/>
<text x="790.0" y="725.3" font-size="13.8" font-weight="bold" fill="#000" stroke="#000" stroke-width="0.3" text-anchor="middle">T30</text>
<path d="M756.6,690.4 A29.5,29.5 0 0 0 772.0,717.6" stroke="#111" stroke-width="1.1" fill="none"/>
<path d="M756.6,752.5 A29.5,29.5 0 0 1 772.0,725.4" stroke="#111" stroke-width="1.1" fill="none"/>
<polygon points="873.0,730.0 898.5,730.0 891.4,742.0 880.1,742.0" fill="none" stroke="#d42626" stroke-width="2.2" stroke-linejoin="miter"/>
<rect x="880.1" y="742.0" width="11.2" height="13.0" fill="none" stroke="#d42626" stroke-width="2.2"/>
<polygon points="1544.6,729.0 1570.7,729.0 1563.4,741.4 1551.9,741.4" fill="none" stroke="#d42626" stroke-width="2.2" stroke-linejoin="miter"/>
<rect x="1551.9" y="741.4" width="11.5" height="13.4" fill="none" stroke="#d42626" stroke-width="2.2"/>
<text x="1164.5" y="757.0" font-size="23" font-weight="bold" fill="#000" stroke="#000" stroke-width="0.45" textLength="94.1" lengthAdjust="spacingAndGlyphs">Empfang</text>
<rect x="1164.5" y="765.4" width="88.0" height="26.1" fill="none" stroke="#444" stroke-width="1.1"/>
<rect x="1181.0" y="770.0" width="59.0" height="27.5" fill="#f8f8f8" stroke="#d42626" stroke-width="3"/>
<rect x="1181.0" y="797.5" width="59.0" height="26.5" fill="#f8f8f8" stroke="#d42626" stroke-width="3"/>
<text x="1210.5" y="793.0" font-size="23" font-weight="bold" fill="#000" stroke="#000" stroke-width="0.45" text-anchor="middle">FBF</text>
<text x="1210.5" y="819.5" font-size="23" font-weight="bold" fill="#000" stroke="#000" stroke-width="0.45" text-anchor="middle">FPK</text>
<text x="1088.0" y="763.0" font-size="18" font-weight="bold" fill="#000" stroke="#000" stroke-width="0.45" text-anchor="start">9/2</text>
<rect x="1091.6" y="773.5" width="22.4" height="21.2" fill="#f8f890" stroke="#111" stroke-width="2.3"/>
<path d="M1102.8,784.1 L1092.8,774.1 L1092.8,794.1 Z M1102.8,784.1 L1112.8,774.1 L1112.8,794.1 Z" fill="#e8e040" opacity="0.55"/>
<line x1="1094.3" y1="775.6" x2="1111.3" y2="792.6" stroke="#2a1208" stroke-width="2.6"/>
<line x1="1094.3" y1="792.6" x2="1111.3" y2="775.6" stroke="#2a1208" stroke-width="2.6"/>
<circle cx="1126.9" cy="784.0" r="10.0" fill="#7e24b0" stroke="#1a1a1a" stroke-width="1.6"/>
<path d="M1126.9,784.0 L1120.7,777.8 A9.0,9.0 0 0 1 1133.1,777.8 Z M1126.9,784.0 L1133.1,790.2 A9.0,9.0 0 0 1 1120.7,790.2 Z" fill="#a848d8"/>
<line x1="1119.9" y1="777.0" x2="1133.9" y2="791.0" stroke="#222" stroke-width="1.6"/>
<line x1="1119.9" y1="791.0" x2="1133.9" y2="777.0" stroke="#222" stroke-width="1.6"/>
<text x="1115.0" y="811.0" font-size="18" font-weight="bold" fill="#000" stroke="#000" stroke-width="0.45" text-anchor="start">2/2</text>
<text x="1190.4" y="879.3" font-size="18" font-weight="bold" fill="#000" stroke="#000" stroke-width="0.45" text-anchor="start">2/1</text>
<circle cx="1205.5" cy="895.8" r="10.0" fill="#7e24b0" stroke="#1a1a1a" stroke-width="1.6"/>
<path d="M1205.5,895.8 L1199.3,889.6 A9.0,9.0 0 0 1 1211.7,889.6 Z M1205.5,895.8 L1211.7,902.0 A9.0,9.0 0 0 1 1199.3,902.0 Z" fill="#a848d8"/>
<line x1="1198.5" y1="888.8" x2="1212.5" y2="902.8" stroke="#222" stroke-width="1.6"/>
<line x1="1198.5" y1="902.8" x2="1212.5" y2="888.8" stroke="#222" stroke-width="1.6"/>
<rect x="1217.5" y="885.0" width="21.0" height="20.3" fill="#f8f890" stroke="#111" stroke-width="2.3"/>
<path d="M1228.0,895.1 L1218.7,885.9 L1218.7,904.4 Z M1228.0,895.1 L1237.3,885.9 L1237.3,904.4 Z" fill="#e8e040" opacity="0.55"/>
<line x1="1220.1" y1="887.2" x2="1235.9" y2="903.1" stroke="#2a1208" stroke-width="2.6"/>
<line x1="1220.1" y1="903.1" x2="1235.9" y2="887.2" stroke="#2a1208" stroke-width="2.6"/>
<text x="1240.0" y="901.5" font-size="18" font-weight="bold" fill="#000" stroke="#000" stroke-width="0.45" text-anchor="start">9/1</text>
<text x="1345.0" y="745.7" font-size="23" font-weight="bold" fill="#000" stroke="#000" stroke-width="0.45" textLength="52.4" lengthAdjust="spacingAndGlyphs">Halle</text>
<circle cx="1368.0" cy="777.0" r="10.0" fill="#7e24b0" stroke="#1a1a1a" stroke-width="1.6"/>
<path d="M1368.0,777.0 L1361.8,770.8 A9.0,9.0 0 0 1 1374.2,770.8 Z M1368.0,777.0 L1374.2,783.2 A9.0,9.0 0 0 1 1361.8,783.2 Z" fill="#a848d8"/>
<line x1="1361.0" y1="770.0" x2="1375.0" y2="784.0" stroke="#222" stroke-width="1.6"/>
<line x1="1361.0" y1="784.0" x2="1375.0" y2="770.0" stroke="#222" stroke-width="1.6"/>
<rect x="1381.0" y="767.0" width="20.5" height="20.6" fill="#f8f890" stroke="#111" stroke-width="2.3"/>
<path d="M1391.2,777.3 L1382.2,768.2 L1382.2,786.3 Z M1391.2,777.3 L1400.3,768.2 L1400.3,786.3 Z" fill="#e8e040" opacity="0.55"/>
<line x1="1383.6" y1="769.6" x2="1398.9" y2="785.0" stroke="#2a1208" stroke-width="2.6"/>
<line x1="1383.6" y1="785.0" x2="1398.9" y2="769.6" stroke="#2a1208" stroke-width="2.6"/>
<text x="1408.0" y="782.0" font-size="18" font-weight="bold" fill="#000" stroke="#000" stroke-width="0.45" text-anchor="start">9/5</text>
<text x="1337.8" y="806.8" font-size="18" font-weight="bold" fill="#000" stroke="#000" stroke-width="0.45" text-anchor="start">2/16E</text>
<text x="1613.7" y="748.0" font-size="18" font-weight="bold" fill="#000" stroke="#000" stroke-width="0.45" text-anchor="start">2/15</text>
<circle cx="1633.4" cy="720.8" r="10.0" fill="#7e24b0" stroke="#1a1a1a" stroke-width="1.6"/>
<path d="M1633.4,720.8 L1627.2,714.6 A9.0,9.0 0 0 1 1639.6,714.6 Z M1633.4,720.8 L1639.6,727.0 A9.0,9.0 0 0 1 1627.2,727.0 Z" fill="#a848d8"/>
<line x1="1626.4" y1="713.8" x2="1640.4" y2="727.8" stroke="#222" stroke-width="1.6"/>
<line x1="1626.4" y1="727.8" x2="1640.4" y2="713.8" stroke="#222" stroke-width="1.6"/>
<rect x="1645.4" y="709.5" width="21.6" height="21.5" fill="#f8f890" stroke="#111" stroke-width="2.3"/>
<path d="M1656.2,720.2 L1646.6,710.7 L1646.6,729.8 Z M1656.2,720.2 L1665.8,710.7 L1665.8,729.8 Z" fill="#e8e040" opacity="0.55"/>
<line x1="1648.0" y1="712.1" x2="1664.4" y2="728.4" stroke="#2a1208" stroke-width="2.6"/>
<line x1="1648.0" y1="728.4" x2="1664.4" y2="712.1" stroke="#2a1208" stroke-width="2.6"/>
<text x="1674.9" y="725.4" font-size="18" font-weight="bold" fill="#000" stroke="#000" stroke-width="0.45" text-anchor="start">9/6</text>
<rect x="921.0" y="760.6" width="34.0" height="34.1" fill="#f0e830" stroke="#111" stroke-width="2.6"/>
<polyline points="943.8,765.0 928.1,780.0" fill="none" stroke="#111" stroke-width="3.2"/>
<polyline points="930.5,777.7 950.2,775.6" fill="none" stroke="#111" stroke-width="3.2"/>
<polyline points="948.9,776.6 935.3,790.9" fill="none" stroke="#111" stroke-width="3.2"/>
<polygon points="933.2,793.0 934.6,781.7 942.1,786.5" fill="#111"/>
<text x="962.0" y="781.7" font-size="20" font-weight="bold" fill="#000" stroke="#000" stroke-width="0.45" textLength="26.0" lengthAdjust="spacingAndGlyphs">HS</text>
<rect x="2007.3" y="684.6" width="33.5" height="32.8" fill="#f0e830" stroke="#111" stroke-width="2.6"/>
<polyline points="2029.7,688.9 2014.3,703.3" fill="none" stroke="#111" stroke-width="3.2"/>
<polyline points="2016.7,701.0 2036.1,699.0" fill="none" stroke="#111" stroke-width="3.2"/>
<polyline points="2034.8,700.0 2021.4,713.8" fill="none" stroke="#111" stroke-width="3.2"/>
<polygon points="2019.4,715.8 2020.7,704.9 2028.1,709.5" fill="#111"/>
<circle cx="929.8" cy="817.0" r="13.0" fill="#fafafa" stroke="#111" stroke-width="2.4"/>
<circle cx="929.8" cy="817.0" r="8.5" fill="#2a8ae0"/>
<text x="948.0" y="824.0" font-size="24" font-weight="bold" fill="#000" stroke="#000" stroke-width="0.45" textLength="50.7" lengthAdjust="spacingAndGlyphs">C-2a</text>
<circle cx="1480.5" cy="813.6" r="13.0" fill="#fafafa" stroke="#111" stroke-width="2.4"/>
<circle cx="1480.5" cy="813.6" r="8.5" fill="#2a8ae0"/>
<text x="1412.6" y="820.4" font-size="24" font-weight="bold" fill="#000" stroke="#000" stroke-width="0.45" textLength="49.8" lengthAdjust="spacingAndGlyphs">C-2a</text>
<circle cx="2060.0" cy="697.7" r="13.0" fill="#fafafa" stroke="#111" stroke-width="2.4"/>
<circle cx="2060.0" cy="697.7" r="8.5" fill="#2a8ae0"/>
<text x="2028.8" y="734.4" font-size="24" font-weight="bold" fill="#000" stroke="#000" stroke-width="0.45" textLength="49.8" lengthAdjust="spacingAndGlyphs">C-2a</text>
<text x="853.0" y="927.5" font-size="18" font-weight="bold" fill="#000" stroke="#000" stroke-width="0.45" text-anchor="start">8/1</text>
<circle cx="865.8" cy="941.7" r="10.0" fill="#f0c8a8" stroke="#1a1a1a" stroke-width="1.6"/>
<line x1="858.8" y1="934.7" x2="872.8" y2="948.7" stroke="#222" stroke-width="1.6"/>
<line x1="858.8" y1="948.7" x2="872.8" y2="934.7" stroke="#222" stroke-width="1.6"/>
<rect x="893.0" y="945.0" width="38.0" height="18.0" fill="#fafafa" stroke="#c81e1e" stroke-width="2.6"/>
<text x="896.5" y="958.8" font-size="13.3" font-weight="bold" fill="#000" stroke="#000" stroke-width="0.3" text-anchor="start" textLength="31.0" lengthAdjust="spacingAndGlyphs">E30C</text>
<path d="M880.0,985.7 A40.0,40.0 0 0 1 913.0,945.0" stroke="#111" stroke-width="1.1" fill="none"/>
<rect x="933.0" y="840.5" width="47.0" height="20.0" fill="#fafafa" stroke="#c81e1e" stroke-width="2.6"/>
<text x="936.5" y="855.8" font-size="14.8" font-weight="bold" fill="#000" stroke="#000" stroke-width="0.3" text-anchor="start" textLength="40.0" lengthAdjust="spacingAndGlyphs">EI30C</text>
<path d="M956.5,858.0 A30.0,30.0 0 0 1 927.0,884.0" stroke="#111" stroke-width="1.1" fill="none"/>
<line x1="927.0" y1="854.6" x2="927.0" y2="884.0" stroke="#111" stroke-width="1"/>
<path d="M956.5,858.0 A30.0,30.0 0 0 0 985.8,884.0" stroke="#111" stroke-width="1.1" fill="none"/>
<line x1="985.8" y1="854.6" x2="985.8" y2="884.0" stroke="#111" stroke-width="1"/>
<text x="945.8" y="908.7" font-size="18" font-weight="bold" fill="#000" stroke="#000" stroke-width="0.45" text-anchor="start">7/1</text>
<circle cx="957.5" cy="924.0" r="10.6" fill="#1c1c8c" stroke="#0a0a40" stroke-width="1.5"/>
<line x1="951.7" y1="918.2" x2="963.3" y2="929.8" stroke="#0a0a50" stroke-width="1.5"/>
<line x1="951.7" y1="929.8" x2="963.3" y2="918.2" stroke="#0a0a50" stroke-width="1.5"/>
<rect x="1010.5" y="860.5" width="37.5" height="56.5" fill="#e01a1a" stroke="#7a1010" stroke-width="1.5"/>
<line x1="1010.5" y1="860.5" x2="1048.0" y2="917.0" stroke="#8a1010" stroke-width="1"/>
<line x1="1010.5" y1="917.0" x2="1048.0" y2="860.5" stroke="#8a1010" stroke-width="1"/>
<text x="1029.2" y="885.5" font-size="24" font-weight="bold" fill="#fff" stroke="#fff" stroke-width="0.45" text-anchor="middle">8</text>
<text x="1029.2" y="913.0" font-size="24" font-weight="bold" fill="#fff" stroke="#fff" stroke-width="0.45" text-anchor="middle">K</text>
<rect x="1054.0" y="860.5" width="36.4" height="56.5" fill="#e01a1a" stroke="#7a1010" stroke-width="1.5"/>
<line x1="1054.0" y1="860.5" x2="1090.4" y2="917.0" stroke="#8a1010" stroke-width="1"/>
<line x1="1054.0" y1="917.0" x2="1090.4" y2="860.5" stroke="#8a1010" stroke-width="1"/>
<text x="1072.2" y="885.5" font-size="24" font-weight="bold" fill="#fff" stroke="#fff" stroke-width="0.45" text-anchor="middle">8</text>
<text x="1072.2" y="913.0" font-size="24" font-weight="bold" fill="#fff" stroke="#fff" stroke-width="0.45" text-anchor="middle">K</text>
<rect x="1321.5" y="860.0" width="36.7" height="57.8" fill="#e01a1a" stroke="#7a1010" stroke-width="1.5"/>
<line x1="1321.5" y1="860.0" x2="1358.2" y2="917.8" stroke="#8a1010" stroke-width="1"/>
<line x1="1321.5" y1="917.8" x2="1358.2" y2="860.0" stroke="#8a1010" stroke-width="1"/>
<text x="1339.8" y="885.0" font-size="24" font-weight="bold" fill="#fff" stroke="#fff" stroke-width="0.45" text-anchor="middle">8</text>
<text x="1339.8" y="913.8" font-size="24" font-weight="bold" fill="#fff" stroke="#fff" stroke-width="0.45" text-anchor="middle">K</text>
<rect x="1363.9" y="860.0" width="37.3" height="57.8" fill="#e01a1a" stroke="#7a1010" stroke-width="1.5"/>
<line x1="1363.9" y1="860.0" x2="1401.2" y2="917.8" stroke="#8a1010" stroke-width="1"/>
<line x1="1363.9" y1="917.8" x2="1401.2" y2="860.0" stroke="#8a1010" stroke-width="1"/>
<text x="1382.6" y="885.0" font-size="24" font-weight="bold" fill="#fff" stroke="#fff" stroke-width="0.45" text-anchor="middle">8</text>
<text x="1382.6" y="913.8" font-size="24" font-weight="bold" fill="#fff" stroke="#fff" stroke-width="0.45" text-anchor="middle">K</text>
<rect x="1008.0" y="927.5" width="88.0" height="57.5" fill="#f6f6f6"/>
<polygon points="1008.0,985.0 1096.0,931.0 1096.0,985.0" fill="#e01a1a"/>
<text x="1036.0" y="953.0" font-size="22" font-weight="bold" fill="#000" stroke="#000" stroke-width="0.45" text-anchor="middle">8</text>
<text x="1084.0" y="980.5" font-size="22" font-weight="bold" fill="#fff" stroke="#fff" stroke-width="0.45" text-anchor="middle">K</text>
<rect x="1320.8" y="934.8" width="82.7" height="45.2" fill="#e01a1a"/>
<line x1="1320.8" y1="934.8" x2="1403.5" y2="980.0" stroke="#8a1010" stroke-width="1"/>
<line x1="1320.8" y1="980.0" x2="1403.5" y2="934.8" stroke="#8a1010" stroke-width="1"/>
<rect x="1324.0" y="951.8" width="25.0" height="12.4" fill="#f6f6f6" stroke="#7a1010" stroke-width="1"/>
<text x="1336.5" y="962.5" font-size="11" font-weight="bold" fill="#000" stroke="#000" stroke-width="0.45" text-anchor="middle">FW</text>
<text x="1362.0" y="951.0" font-size="20" font-weight="bold" fill="#fff" stroke="#fff" stroke-width="0.45" text-anchor="middle">8</text>
<text x="1362.0" y="978.0" font-size="20" font-weight="bold" fill="#fff" stroke="#fff" stroke-width="0.45" text-anchor="middle">K</text>
<polygon points="1362.7,957.4 1403.5,936.0 1403.5,980.0" fill="#30d030"/>
<polygon points="1375.0,957.4 1401.0,943.0 1401.0,972.0" fill="#f4f4f4"/>
<text x="1390.0" y="968.0" font-size="20" font-weight="bold" fill="#000" stroke="#000" stroke-width="0.45" text-anchor="middle">B</text>
<rect x="1404.6" y="949.5" width="34.0" height="17.0" fill="#fafafa" stroke="#c81e1e" stroke-width="2.6"/>
<text x="1421.6" y="962.5" font-size="12.6" font-weight="bold" fill="#000" stroke="#000" stroke-width="0.3" text-anchor="middle">E30</text>
<rect x="1108.6" y="914.5" width="19.7" height="19.0" fill="#c8553a" stroke="#111" stroke-width="2"/>
<circle cx="1118.4" cy="924.0" r="6.4" fill="#111"/>
<text x="1111.6" y="908.7" font-size="18" font-weight="bold" fill="#000" stroke="#000" stroke-width="0.45" text-anchor="start">1/1</text>
<path d="M1134.0,982.0 A34.0,34.0 0 0 0 1168.0,947.0" stroke="#111" stroke-width="1.1" fill="none"/>
<path d="M1202.0,982.0 A34.0,34.0 0 0 1 1168.0,947.0" stroke="#111" stroke-width="1.1" fill="none"/>
<line x1="1134.0" y1="947.0" x2="1134.0" y2="982.0" stroke="#111" stroke-width="1.4"/>
<line x1="1202.0" y1="947.0" x2="1202.0" y2="982.0" stroke="#111" stroke-width="1.4"/>
<path d="M1211.0,982.0 A34.0,34.0 0 0 0 1245.5,947.0" stroke="#111" stroke-width="1.1" fill="none"/>
<path d="M1280.0,982.0 A34.0,34.0 0 0 1 1245.5,947.0" stroke="#111" stroke-width="1.1" fill="none"/>
<line x1="1211.0" y1="947.0" x2="1211.0" y2="982.0" stroke="#111" stroke-width="1.4"/>
<line x1="1280.0" y1="947.0" x2="1280.0" y2="982.0" stroke="#111" stroke-width="1.4"/>
<polygon points="1159.8,957.4 1173.8,957.4 1173.8,988.5 1181.8,988.5 1166.8,1010.5 1151.8,988.5 1159.8,988.5" fill="#30d830" stroke="#0c300c" stroke-width="3" stroke-linejoin="miter"/>
<polygon points="1237.6,957.4 1251.6,957.4 1251.6,988.5 1259.6,988.5 1244.6,1010.5 1229.6,988.5 1237.6,988.5" fill="#30d830" stroke="#0c300c" stroke-width="3" stroke-linejoin="miter"/>
<rect x="1433.0" y="840.8" width="45.0" height="20.4" fill="#fafafa" stroke="#c81e1e" stroke-width="2.6"/>
<text x="1436.5" y="856.4" font-size="15.1" font-weight="bold" fill="#000" stroke="#000" stroke-width="0.3" text-anchor="start" textLength="38.0" lengthAdjust="spacingAndGlyphs">EI30C</text>
<path d="M1455.5,858.0 A30.0,30.0 0 0 1 1425.0,885.0" stroke="#111" stroke-width="1.1" fill="none"/>
<line x1="1425.0" y1="854.0" x2="1425.0" y2="885.0" stroke="#111" stroke-width="1"/>
<path d="M1455.5,858.0 A30.0,30.0 0 0 0 1486.0,885.0" stroke="#111" stroke-width="1.1" fill="none"/>
<line x1="1486.0" y1="854.0" x2="1486.0" y2="885.0" stroke="#111" stroke-width="1"/>
<text x="1439.8" y="909.9" font-size="18" font-weight="bold" fill="#000" stroke="#000" stroke-width="0.45" text-anchor="start">5/1</text>
<circle cx="1454.5" cy="924.0" r="10.0" fill="#f0c8a8" stroke="#1a1a1a" stroke-width="1.6"/>
<line x1="1447.5" y1="917.0" x2="1461.5" y2="931.0" stroke="#222" stroke-width="1.6"/>
<line x1="1447.5" y1="931.0" x2="1461.5" y2="917.0" stroke="#222" stroke-width="1.6"/>
<text x="1538.0" y="927.0" font-size="18" font-weight="bold" fill="#000" stroke="#000" stroke-width="0.45" text-anchor="start">6/1</text>
<circle cx="1551.4" cy="940.5" r="10.0" fill="#1c1c8c" stroke="#0a0a40" stroke-width="1.5"/>
<line x1="1545.9" y1="935.0" x2="1556.9" y2="946.0" stroke="#0a0a50" stroke-width="1.5"/>
<line x1="1545.9" y1="946.0" x2="1556.9" y2="935.0" stroke="#0a0a50" stroke-width="1.5"/>
<rect x="1479.4" y="942.7" width="38.6" height="17.0" fill="#fafafa" stroke="#c81e1e" stroke-width="2.6"/>
<text x="1482.9" y="955.7" font-size="12.6" font-weight="bold" fill="#000" stroke="#000" stroke-width="0.3" text-anchor="start" textLength="31.6" lengthAdjust="spacingAndGlyphs">E30C</text>
<path d="M1518.0,944.0 A42.0,42.0 0 0 1 1553.0,986.0" stroke="#111" stroke-width="1.1" fill="none"/>
<rect x="1653.0" y="770.5" width="91.5" height="30.5" fill="#f8f8f8" stroke="#d42626" stroke-width="2.6"/>
<line x1="1715.5" y1="770.5" x2="1715.5" y2="801.0" stroke="#d42626" stroke-width="2.6"/>
<circle cx="1729.0" cy="785.7" r="7.0" fill="#e01818"/>
<text x="1684.0" y="794.0" font-size="24" font-weight="bold" fill="#000" stroke="#000" stroke-width="0.45" text-anchor="middle">BMZ</text>
<rect x="1669.0" y="804.0" width="57.0" height="26.0" fill="#f8f8f8" stroke="#d42626" stroke-width="2.6"/>
<text x="1697.5" y="825.0" font-size="22" font-weight="bold" fill="#000" stroke="#000" stroke-width="0.45" text-anchor="middle">OBF</text>
<rect x="1665.0" y="834.5" width="65.0" height="29.9" fill="#f8f8f8" stroke="#d42626" stroke-width="2.6"/>
<line x1="1665.0" y1="856.0" x2="1730.0" y2="856.0" stroke="#d42626" stroke-width="1.5"/>
<polyline points="1665.0,856.0 1673.1,864.0 1681.2,856.0 1689.4,864.0 1697.5,856.0 1705.6,864.0 1713.8,856.0 1721.9,864.0 1730.0,856.0" fill="none" stroke="#d42626" stroke-width="1.5"/>
<text x="1697.5" y="852.0" font-size="20" font-weight="bold" fill="#000" stroke="#000" stroke-width="0.45" text-anchor="middle">LMZ</text>
<text x="1680.4" y="891.0" font-size="18" font-weight="bold" fill="#000" stroke="#000" stroke-width="0.45" text-anchor="start">2/14</text>
<circle cx="1698.0" cy="906.0" r="10.0" fill="#7e24b0" stroke="#1a1a1a" stroke-width="1.6"/>
<path d="M1698.0,906.0 L1691.8,899.8 A9.0,9.0 0 0 1 1704.2,899.8 Z M1698.0,906.0 L1704.2,912.2 A9.0,9.0 0 0 1 1691.8,912.2 Z" fill="#a848d8"/>
<line x1="1691.0" y1="899.0" x2="1705.0" y2="913.0" stroke="#222" stroke-width="1.6"/>
<line x1="1691.0" y1="913.0" x2="1705.0" y2="899.0" stroke="#222" stroke-width="1.6"/>
<text x="1837.4" y="891.0" font-size="18" font-weight="bold" fill="#000" stroke="#000" stroke-width="0.45" text-anchor="start">2/13</text>
<circle cx="1856.0" cy="906.0" r="10.0" fill="#7e24b0" stroke="#1a1a1a" stroke-width="1.6"/>
<path d="M1856.0,906.0 L1849.8,899.8 A9.0,9.0 0 0 1 1862.2,899.8 Z M1856.0,906.0 L1862.2,912.2 A9.0,9.0 0 0 1 1849.8,912.2 Z" fill="#a848d8"/>
<line x1="1849.0" y1="899.0" x2="1863.0" y2="913.0" stroke="#222" stroke-width="1.6"/>
<line x1="1849.0" y1="913.0" x2="1863.0" y2="899.0" stroke="#222" stroke-width="1.6"/>
<text x="1996.0" y="891.0" font-size="18" font-weight="bold" fill="#000" stroke="#000" stroke-width="0.45" text-anchor="start">2/12</text>
<circle cx="2013.4" cy="906.0" r="10.0" fill="#7e24b0" stroke="#1a1a1a" stroke-width="1.6"/>
<path d="M2013.4,906.0 L2007.2,899.8 A9.0,9.0 0 0 1 2019.6,899.8 Z M2013.4,906.0 L2019.6,912.2 A9.0,9.0 0 0 1 2007.2,912.2 Z" fill="#a848d8"/>
<line x1="2006.4" y1="899.0" x2="2020.4" y2="913.0" stroke="#222" stroke-width="1.6"/>
<line x1="2006.4" y1="913.0" x2="2020.4" y2="899.0" stroke="#222" stroke-width="1.6"/>
<text x="1666.7" y="950.4" font-size="23" font-weight="bold" fill="#000" stroke="#000" stroke-width="0.45" textLength="48.8" lengthAdjust="spacingAndGlyphs">Büro</text>
<text x="1672.8" y="968.7" font-size="20" font-weight="bold" fill="#000" stroke="#000" stroke-width="0.45" textLength="33.5" lengthAdjust="spacingAndGlyphs">E01</text>
<text x="1836.0" y="950.4" font-size="23" font-weight="bold" fill="#000" stroke="#000" stroke-width="0.45" textLength="48.8" lengthAdjust="spacingAndGlyphs">Büro</text>
<text x="1842.0" y="968.7" font-size="20" font-weight="bold" fill="#000" stroke="#000" stroke-width="0.45" textLength="33.5" lengthAdjust="spacingAndGlyphs">E02</text>
<text x="1990.0" y="950.4" font-size="23" font-weight="bold" fill="#000" stroke="#000" stroke-width="0.45" textLength="48.8" lengthAdjust="spacingAndGlyphs">Büro</text>
<text x="1996.0" y="968.7" font-size="20" font-weight="bold" fill="#000" stroke="#000" stroke-width="0.45" textLength="33.5" lengthAdjust="spacingAndGlyphs">E03</text>
<line x1="1615.0" y1="767.0" x2="1615.0" y2="798.0" stroke="#111" stroke-width="1"/>
<path d="M1615.0,798.0 A31.0,31.0 0 0 0 1645.0,767.0" stroke="#111" stroke-width="1.1" fill="none"/>
<line x1="1797.8" y1="767.0" x2="1797.8" y2="798.0" stroke="#111" stroke-width="1"/>
<path d="M1797.8,798.0 A31.0,31.0 0 0 0 1828.3,767.0" stroke="#111" stroke-width="1.1" fill="none"/>
<line x1="1951.8" y1="767.0" x2="1951.8" y2="798.0" stroke="#111" stroke-width="1"/>
<path d="M1951.8,798.0 A31.0,31.0 0 0 0 1981.2,767.0" stroke="#111" stroke-width="1.1" fill="none"/>
<text x="2117.0" y="807.0" font-size="18" font-weight="bold" fill="#000" stroke="#000" stroke-width="0.45" text-anchor="start">3/1E</text>
<circle cx="2137.0" cy="825.4" r="10.0" fill="#30c040" stroke="#1a1a1a" stroke-width="1.6"/>
<path d="M2137.0,825.4 L2130.8,819.2 A9.0,9.0 0 0 1 2143.2,819.2 Z M2137.0,825.4 L2143.2,831.6 A9.0,9.0 0 0 1 2130.8,831.6 Z" fill="#70e070"/>
<line x1="2130.0" y1="818.4" x2="2144.0" y2="832.4" stroke="#222" stroke-width="1.6"/>
<line x1="2130.0" y1="832.4" x2="2144.0" y2="818.4" stroke="#222" stroke-width="1.6"/>
<text x="2105.7" y="859.0" font-size="24" font-weight="bold" fill="#000" stroke="#000" stroke-width="0.45" textLength="54.9" lengthAdjust="spacingAndGlyphs">Trafo</text>
<text x="2095.0" y="877.0" font-size="20" font-weight="bold" fill="#000" stroke="#000" stroke-width="0.45" textLength="34.5" lengthAdjust="spacingAndGlyphs">E04</text>
<polygon points="2137.5,878.5 2173.4,936.5 2101.6,936.5" fill="#f0e830" stroke="#111" stroke-width="3" stroke-linejoin="miter"/>
<polyline points="2143.0,899.0 2122.7,918.0" fill="none" stroke="#111" stroke-width="2.6"/>
<polyline points="2124.0,917.0 2149.2,911.9" fill="none" stroke="#111" stroke-width="2.6"/>
<polyline points="2147.5,913.0 2131.0,929.0" fill="none" stroke="#111" stroke-width="2.6"/>
<polygon points="2128.3,933.5 2131.5,920.5 2141.0,927.3" fill="#111"/>
<rect x="2101.6" y="937.0" width="71.8" height="24.0" fill="#f8f8f8" stroke="#111" stroke-width="3"/>
<text x="2137.4" y="958.0" font-size="24" font-weight="bold" fill="#000" stroke="#000" stroke-width="0.45" text-anchor="middle">10kV</text>
<line x1="2102.0" y1="998.0" x2="2102.0" y2="1026.6" stroke="#111" stroke-width="1"/>
<line x1="2163.6" y1="998.0" x2="2163.6" y2="1026.6" stroke="#111" stroke-width="1"/>
<path d="M2102.0,1028.8 A30.8,30.8 0 0 0 2132.8,998.0" stroke="#111" stroke-width="1.1" fill="none"/>
<path d="M2163.6,1028.8 A30.8,30.8 0 0 1 2132.8,998.0" stroke="#111" stroke-width="1.1" fill="none"/>
<text x="1320.4" y="565.7" font-size="23" font-weight="bold" fill="#000" stroke="#000" stroke-width="0.45" textLength="168.6" lengthAdjust="spacingAndGlyphs">Besprechungsz.</text>
<text x="1378.0" y="587.0" font-size="20" font-weight="bold" fill="#000" stroke="#000" stroke-width="0.45" textLength="34.0" lengthAdjust="spacingAndGlyphs">E08</text>
<circle cx="1309.0" cy="588.0" r="10.0" fill="#7e24b0" stroke="#1a1a1a" stroke-width="1.6"/>
<path d="M1309.0,588.0 L1302.8,581.8 A9.0,9.0 0 0 1 1315.2,581.8 Z M1309.0,588.0 L1315.2,594.2 A9.0,9.0 0 0 1 1302.8,594.2 Z" fill="#a848d8"/>
<line x1="1302.0" y1="581.0" x2="1316.0" y2="595.0" stroke="#222" stroke-width="1.6"/>
<line x1="1302.0" y1="595.0" x2="1316.0" y2="581.0" stroke="#222" stroke-width="1.6"/>
<text x="1290.0" y="615.5" font-size="18" font-weight="bold" fill="#000" stroke="#000" stroke-width="0.45" text-anchor="start">2/6</text>
<circle cx="1477.0" cy="588.0" r="10.0" fill="#7e24b0" stroke="#1a1a1a" stroke-width="1.6"/>
<path d="M1477.0,588.0 L1470.8,581.8 A9.0,9.0 0 0 1 1483.2,581.8 Z M1477.0,588.0 L1483.2,594.2 A9.0,9.0 0 0 1 1470.8,594.2 Z" fill="#a848d8"/>
<line x1="1470.0" y1="581.0" x2="1484.0" y2="595.0" stroke="#222" stroke-width="1.6"/>
<line x1="1470.0" y1="595.0" x2="1484.0" y2="581.0" stroke="#222" stroke-width="1.6"/>
<text x="1460.8" y="614.4" font-size="18" font-weight="bold" fill="#000" stroke="#000" stroke-width="0.45" text-anchor="start">2/7</text>
<text x="1361.0" y="675.5" font-size="19" font-weight="bold" fill="#000" stroke="#000" stroke-width="0.45" textLength="86.0" lengthAdjust="spacingAndGlyphs">Glaswand</text>
<rect x="1491.4" y="514.7" width="36.3" height="20.3" fill="#fafafa" stroke="#c81e1e" stroke-width="2.6"/>
<text x="1509.6" y="530.3" font-size="15.0" font-weight="bold" fill="#000" stroke="#000" stroke-width="0.3" text-anchor="middle">E30</text>
<line x1="1263.8" y1="647.0" x2="1263.8" y2="683.0" stroke="#111" stroke-width="1"/>
<line x1="1325.6" y1="647.0" x2="1325.6" y2="683.0" stroke="#111" stroke-width="1"/>
<path d="M1263.8,647.0 A31.0,31.0 0 0 1 1294.7,679.0" stroke="#111" stroke-width="1.1" fill="none"/>
<path d="M1325.6,647.0 A31.0,31.0 0 0 0 1294.7,679.0" stroke="#111" stroke-width="1.1" fill="none"/>
<text x="1602.0" y="548.7" font-size="23" font-weight="bold" fill="#000" stroke="#000" stroke-width="0.45" textLength="48.5" lengthAdjust="spacingAndGlyphs">Büro</text>
<text x="1609.0" y="568.0" font-size="20" font-weight="bold" fill="#000" stroke="#000" stroke-width="0.45" textLength="33.5" lengthAdjust="spacingAndGlyphs">E07</text>
<circle cx="1624.4" cy="594.7" r="10.0" fill="#7e24b0" stroke="#1a1a1a" stroke-width="1.6"/>
<path d="M1624.4,594.7 L1618.2,588.5 A9.0,9.0 0 0 1 1630.6,588.5 Z M1624.4,594.7 L1630.6,600.9 A9.0,9.0 0 0 1 1618.2,600.9 Z" fill="#a848d8"/>
<line x1="1617.4" y1="587.7" x2="1631.4" y2="601.7" stroke="#222" stroke-width="1.6"/>
<line x1="1617.4" y1="601.7" x2="1631.4" y2="587.7" stroke="#222" stroke-width="1.6"/>
<text x="1608.0" y="624.6" font-size="18" font-weight="bold" fill="#000" stroke="#000" stroke-width="0.45" text-anchor="start">2/8</text>
<text x="1754.7" y="548.7" font-size="23" font-weight="bold" fill="#000" stroke="#000" stroke-width="0.45" textLength="48.5" lengthAdjust="spacingAndGlyphs">Büro</text>
<text x="1760.0" y="568.0" font-size="20" font-weight="bold" fill="#000" stroke="#000" stroke-width="0.45" textLength="33.5" lengthAdjust="spacingAndGlyphs">E06</text>
<circle cx="1779.6" cy="594.7" r="10.0" fill="#7e24b0" stroke="#1a1a1a" stroke-width="1.6"/>
<path d="M1779.6,594.7 L1773.4,588.5 A9.0,9.0 0 0 1 1785.8,588.5 Z M1779.6,594.7 L1785.8,600.9 A9.0,9.0 0 0 1 1773.4,600.9 Z" fill="#a848d8"/>
<line x1="1772.6" y1="587.7" x2="1786.6" y2="601.7" stroke="#222" stroke-width="1.6"/>
<line x1="1772.6" y1="601.7" x2="1786.6" y2="587.7" stroke="#222" stroke-width="1.6"/>
<text x="1765.0" y="624.6" font-size="18" font-weight="bold" fill="#000" stroke="#000" stroke-width="0.45" text-anchor="start">2/9</text>
<text x="1944.0" y="548.7" font-size="23" font-weight="bold" fill="#000" stroke="#000" stroke-width="0.45" textLength="48.5" lengthAdjust="spacingAndGlyphs">Büro</text>
<text x="1949.5" y="568.0" font-size="20" font-weight="bold" fill="#000" stroke="#000" stroke-width="0.45" textLength="33.5" lengthAdjust="spacingAndGlyphs">E05</text>
<circle cx="1972.0" cy="594.7" r="10.0" fill="#7e24b0" stroke="#1a1a1a" stroke-width="1.6"/>
<path d="M1972.0,594.7 L1965.8,588.5 A9.0,9.0 0 0 1 1978.2,588.5 Z M1972.0,594.7 L1978.2,600.9 A9.0,9.0 0 0 1 1965.8,600.9 Z" fill="#a848d8"/>
<line x1="1965.0" y1="587.7" x2="1979.0" y2="601.7" stroke="#222" stroke-width="1.6"/>
<line x1="1965.0" y1="601.7" x2="1979.0" y2="587.7" stroke="#222" stroke-width="1.6"/>
<text x="1956.0" y="624.6" font-size="18" font-weight="bold" fill="#000" stroke="#000" stroke-width="0.45" text-anchor="start">2/10</text>
<line x1="1560.5" y1="648.0" x2="1560.5" y2="679.0" stroke="#111" stroke-width="1"/>
<path d="M1560.5,648.0 A31.0,31.0 0 0 1 1590.0,679.0" stroke="#111" stroke-width="1.1" fill="none"/>
<line x1="1714.5" y1="648.0" x2="1714.5" y2="679.0" stroke="#111" stroke-width="1"/>
<path d="M1714.5,648.0 A31.0,31.0 0 0 1 1745.0,679.0" stroke="#111" stroke-width="1.1" fill="none"/>
<line x1="1871.4" y1="648.0" x2="1871.4" y2="679.0" stroke="#111" stroke-width="1"/>
<path d="M1871.4,648.0 A31.0,31.0 0 0 1 1902.0,679.0" stroke="#111" stroke-width="1.1" fill="none"/>
<rect x="1786.4" y="685.7" width="15.9" height="14.7" fill="#f8f8f8" stroke="#d42626" stroke-width="2"/>
<text x="1794.3" y="696.4" font-size="9" font-weight="bold" fill="#000" stroke="#000" stroke-width="0.45" text-anchor="middle">HM</text>
<rect x="1786.4" y="744.6" width="15.9" height="14.7" fill="#f8f8f8" stroke="#d42626" stroke-width="2"/>
<text x="1794.3" y="755.3" font-size="9" font-weight="bold" fill="#000" stroke="#000" stroke-width="0.45" text-anchor="middle">HM</text>
<rect x="1766.0" y="710.6" width="46.5" height="20.4" fill="#fafafa" stroke="#c81e1e" stroke-width="2.6"/>
<text x="1769.5" y="726.2" font-size="15.1" font-weight="bold" fill="#000" stroke="#000" stroke-width="0.3" text-anchor="start" textLength="39.5" lengthAdjust="spacingAndGlyphs">EI30C</text>
<path d="M1802.0,687.0 A24.0,24.0 0 0 1 1812.0,711.0" stroke="#111" stroke-width="1.1" fill="none"/>
<path d="M1812.0,731.0 A24.0,24.0 0 0 1 1802.0,757.0" stroke="#111" stroke-width="1.1" fill="none"/>
<text x="1898.5" y="709.5" font-size="18" font-weight="bold" fill="#000" stroke="#000" stroke-width="0.45" text-anchor="start">9/7E</text>
<rect x="1906.5" y="715.6" width="21.0" height="21.0" fill="#f8f890" stroke="#111" stroke-width="2.3"/>
<path d="M1917.0,726.1 L1907.7,716.8 L1907.7,735.4 Z M1917.0,726.1 L1926.3,716.8 L1926.3,735.4 Z" fill="#e8e040" opacity="0.55"/>
<line x1="1909.1" y1="718.2" x2="1924.9" y2="734.0" stroke="#2a1208" stroke-width="2.6"/>
<line x1="1909.1" y1="734.0" x2="1924.9" y2="718.2" stroke="#2a1208" stroke-width="2.6"/>
<circle cx="1941.6" cy="726.0" r="10.0" fill="#7e24b0" stroke="#1a1a1a" stroke-width="1.6"/>
<path d="M1941.6,726.0 L1935.4,719.8 A9.0,9.0 0 0 1 1947.8,719.8 Z M1941.6,726.0 L1947.8,732.2 A9.0,9.0 0 0 1 1935.4,732.2 Z" fill="#a848d8"/>
<line x1="1934.6" y1="719.0" x2="1948.6" y2="733.0" stroke="#222" stroke-width="1.6"/>
<line x1="1934.6" y1="733.0" x2="1948.6" y2="719.0" stroke="#222" stroke-width="1.6"/>
<text x="1956.3" y="732.0" font-size="18" font-weight="bold" fill="#000" stroke="#000" stroke-width="0.45" text-anchor="start">2/11</text>
<text x="2019.7" y="754.8" font-size="18" font-weight="bold" fill="#000" stroke="#000" stroke-width="0.45" text-anchor="start">1/2</text>
<rect x="2054.4" y="737.8" width="20.4" height="19.2" fill="#c8553a" stroke="#111" stroke-width="2"/>
<circle cx="2064.6" cy="747.4" r="6.7" fill="#111"/>
<rect x="2081.0" y="709.0" width="35.0" height="18.6" fill="#fafafa" stroke="#c81e1e" stroke-width="2.6"/>
<text x="2098.5" y="723.3" font-size="13.8" font-weight="bold" fill="#000" stroke="#000" stroke-width="0.3" text-anchor="middle">T30</text>
<line x1="2085.0" y1="692.6" x2="2120.5" y2="692.6" stroke="#111" stroke-width="1.2"/>
<line x1="2085.0" y1="753.5" x2="2120.5" y2="753.5" stroke="#111" stroke-width="1.2"/>
<path d="M2120.5,692.6 A35.4,35.4 0 0 1 2116.6,708.2" stroke="#111" stroke-width="1.1" fill="none"/>
<path d="M2120.5,753.5 A35.4,35.4 0 0 0 2109.7,729.7" stroke="#111" stroke-width="1.1" fill="none"/>
<line x1="2181.3" y1="692.6" x2="2223.6" y2="692.6" stroke="#111" stroke-width="1.2"/>
<line x1="2181.3" y1="753.5" x2="2223.6" y2="753.5" stroke="#111" stroke-width="1.2"/>
<path d="M2223.6,692.6 A42.3,42.3 0 0 1 2215.0,713.8" stroke="#111" stroke-width="1.1" fill="none"/>
<path d="M2223.6,753.5 A42.3,42.3 0 0 0 2215.0,732.0" stroke="#111" stroke-width="1.1" fill="none"/>
<polygon points="2224.4,722.4 2201.1,707.7 2201.1,715.0 2171.4,715.0 2171.4,729.3 2201.1,729.3 2201.1,738.0" fill="#22e010" stroke="#0c300c" stroke-width="2.5" stroke-linejoin="miter"/>
<text x="2121.6" y="669.8" font-size="18" font-weight="bold" fill="#000" stroke="#000" stroke-width="0.45" text-anchor="start">10/1</text>
<circle cx="2139.3" cy="683.9" r="10.0" fill="#d05030" stroke="#1a1a1a" stroke-width="1.6"/>
<path d="M2139.3,683.9 L2133.1,677.7 A9.0,9.0 0 0 1 2145.5,677.7 Z M2139.3,683.9 L2145.5,690.1 A9.0,9.0 0 0 1 2133.1,690.1 Z" fill="#f08060"/>
<line x1="2132.3" y1="676.9" x2="2146.3" y2="690.9" stroke="#222" stroke-width="1.6"/>
<line x1="2132.3" y1="690.9" x2="2146.3" y2="676.9" stroke="#222" stroke-width="1.6"/>
<rect x="2128.5" y="739.0" width="20.3" height="20.3" fill="none" stroke="#e0a050" stroke-width="2"/>
<circle cx="2138.6" cy="749.0" r="3.5" fill="#f08a20"/>
<text x="1088.0" y="311.7" font-size="27" font-weight="bold" fill="#d42222" stroke="#d42222" stroke-width="1.0" text-anchor="start" textLength="277" lengthAdjust="spacingAndGlyphs">ANSCHLUSS PLAN 4</text>
<text x="992.6" y="349.7" font-size="24" font-weight="bold" fill="#000" stroke="#000" stroke-width="0.45" textLength="128.9" lengthAdjust="spacingAndGlyphs">Haustechnik</text>
<text x="976.0" y="372.0" font-size="20" font-weight="bold" fill="#000" stroke="#000" stroke-width="0.45" textLength="33.0" lengthAdjust="spacingAndGlyphs">E12</text>
<circle cx="1035.0" cy="374.6" r="8.7" fill="#c080d8" stroke="#1a1a1a" stroke-width="1.6"/>
<path d="M1035.0,374.6 L1029.6,369.2 A7.7,7.7 0 0 1 1040.4,369.2 Z M1035.0,374.6 L1040.4,380.0 A7.7,7.7 0 0 1 1029.6,380.0 Z" fill="#e0b0f0"/>
<line x1="1028.9" y1="368.5" x2="1041.1" y2="380.7" stroke="#222" stroke-width="1.6"/>
<line x1="1028.9" y1="380.7" x2="1041.1" y2="368.5" stroke="#222" stroke-width="1.6"/>
<rect x="1047.8" y="363.0" width="20.9" height="21.5" fill="#90e0f0" stroke="#111" stroke-width="2.3"/>
<path d="M1058.2,373.8 L1049.0,364.5 L1049.0,383.0 Z M1058.2,373.8 L1067.5,364.5 L1067.5,383.0 Z" fill="#40b8c8" opacity="0.55"/>
<line x1="1050.4" y1="365.9" x2="1066.1" y2="381.6" stroke="#2a1208" stroke-width="2.6"/>
<line x1="1050.4" y1="381.6" x2="1066.1" y2="365.9" stroke="#2a1208" stroke-width="2.6"/>
<text x="1072.0" y="373.0" font-size="18" font-weight="bold" fill="#000" stroke="#000" stroke-width="0.45" text-anchor="start">34/1E</text>
<text x="1008.0" y="401.0" font-size="18" font-weight="bold" fill="#000" stroke="#000" stroke-width="0.45" text-anchor="start">35/1E</text>
<rect x="1129.4" y="377.4" width="45.3" height="19.9" fill="#fafafa" stroke="#c81e1e" stroke-width="2.6"/>
<text x="1132.9" y="392.7" font-size="14.7" font-weight="bold" fill="#000" stroke="#000" stroke-width="0.3" text-anchor="start" textLength="38.3" lengthAdjust="spacingAndGlyphs">EI30C</text>
<path d="M1129.5,398.0 A32.0,32.0 0 0 1 1160.8,369.5" stroke="#111" stroke-width="1.1" fill="none"/>
<line x1="1129.5" y1="397.3" x2="1129.5" y2="403.0" stroke="#111" stroke-width="1.2"/>
<line x1="1129.5" y1="403.0" x2="1160.8" y2="403.0" stroke="#111" stroke-width="1.2"/>
<text x="861.0" y="377.6" font-size="20" font-weight="bold" fill="#000" stroke="#000" stroke-width="0.45" textLength="72.0" lengthAdjust="spacingAndGlyphs">Stiege 5</text>
<polyline points="862.5,407.0 862.5,391.5 877.6,391.5" fill="none" stroke="#30d030" stroke-width="4.5"/>
<polyline points="919.0,391.5 933.0,391.5 933.0,407.0" fill="none" stroke="#30d030" stroke-width="4.5"/>
<polyline points="862.5,449.0 862.5,463.0 877.0,463.0" fill="none" stroke="#30d030" stroke-width="4.5"/>
<polyline points="919.0,463.0 933.0,463.0 933.0,447.0" fill="none" stroke="#30d030" stroke-width="4.5"/>
<text x="874.0" y="414.0" font-size="22" font-weight="bold" fill="#000" stroke="#000" stroke-width="0.45" text-anchor="start">3</text>
<text x="910.7" y="458.6" font-size="22" font-weight="bold" fill="#000" stroke="#000" stroke-width="0.45" text-anchor="start">K</text>
<polyline points="880.2,454.0 880.2,436.0 898.5,436.0 898.5,417.6 916.0,417.6 916.0,401.0" fill="none" stroke="#111" stroke-width="3"/>
<polygon points="911.6,476.0 934.0,470.8 931.6,490.0 908.0,499.5" fill="#e81818"/>
<text x="1089.0" y="444.6" font-size="18" font-weight="bold" fill="#000" stroke="#000" stroke-width="0.45" text-anchor="start">33/4E</text>
<rect x="1098.0" y="450.7" width="21.8" height="22.7" fill="#c0f0c0" stroke="#111" stroke-width="2.3"/>
<path d="M1108.9,462.0 L1099.2,452.3 L1099.2,471.7 Z M1108.9,462.0 L1118.6,452.3 L1118.6,471.7 Z" fill="#50b050" opacity="0.55"/>
<line x1="1100.7" y1="453.8" x2="1117.1" y2="470.3" stroke="#2a1208" stroke-width="2.6"/>
<line x1="1100.7" y1="470.3" x2="1117.1" y2="453.8" stroke="#2a1208" stroke-width="2.6"/>
<circle cx="1135.4" cy="470.8" r="10.0" fill="#40b8c8" stroke="#1a1a1a" stroke-width="1.6"/>
<path d="M1135.4,470.8 L1129.2,464.6 A9.0,9.0 0 0 1 1141.6,464.6 Z M1135.4,470.8 L1141.6,477.0 A9.0,9.0 0 0 1 1129.2,477.0 Z" fill="#90e0f0"/>
<line x1="1128.4" y1="463.8" x2="1142.4" y2="477.8" stroke="#222" stroke-width="1.6"/>
<line x1="1128.4" y1="477.8" x2="1142.4" y2="463.8" stroke="#222" stroke-width="1.6"/>
<text x="1146.8" y="464.7" font-size="18" font-weight="bold" fill="#000" stroke="#000" stroke-width="0.45" text-anchor="start">32/1</text>
<text x="1088.0" y="500.4" font-size="18" font-weight="bold" fill="#000" stroke="#000" stroke-width="0.45" text-anchor="start">31/1</text>
<rect x="1131.0" y="482.0" width="21.0" height="21.0" fill="#2850a8" stroke="#111" stroke-width="2"/>
<circle cx="1141.5" cy="492.5" r="6.5" fill="#111"/>
<rect x="1166.0" y="490.6" width="13.7" height="13.6" fill="#f8f8f8" stroke="#d42626" stroke-width="2"/>
<text x="1172.8" y="500.2" font-size="9" font-weight="bold" fill="#000" stroke="#000" stroke-width="0.45" text-anchor="middle">HM</text>
<rect x="1229.0" y="489.5" width="14.0" height="13.5" fill="#f8f8f8" stroke="#d42626" stroke-width="2"/>
<text x="1236.0" y="499.0" font-size="9" font-weight="bold" fill="#000" stroke="#000" stroke-width="0.45" text-anchor="middle">HM</text>
<rect x="1183.0" y="506.5" width="46.5" height="20.4" fill="#fafafa" stroke="#c81e1e" stroke-width="2.6"/>
<text x="1186.5" y="522.1" font-size="15.1" font-weight="bold" fill="#000" stroke="#000" stroke-width="0.3" text-anchor="start" textLength="39.5" lengthAdjust="spacingAndGlyphs">EI30C</text>
<line x1="1176.5" y1="477.6" x2="1176.5" y2="490.6" stroke="#111" stroke-width="1.3"/>
<line x1="1237.0" y1="477.6" x2="1237.0" y2="489.5" stroke="#111" stroke-width="1.3"/>
<path d="M1176.5,477.6 A29.0,29.0 0 0 1 1207.0,505.0" stroke="#111" stroke-width="1.1" fill="none"/>
<path d="M1237.0,477.6 A29.0,29.0 0 0 0 1207.0,505.0" stroke="#111" stroke-width="1.1" fill="none"/>
<rect x="1235.8" y="377.4" width="44.7" height="20.4" fill="#fafafa" stroke="#c81e1e" stroke-width="2.6"/>
<text x="1239.3" y="393.0" font-size="15.1" font-weight="bold" fill="#000" stroke="#000" stroke-width="0.3" text-anchor="start" textLength="37.7" lengthAdjust="spacingAndGlyphs">EI30C</text>
<path d="M1254.4,370.0 A34.0,34.0 0 0 1 1284.0,403.4" stroke="#111" stroke-width="1.1" fill="none"/>
<rect x="1234.7" y="431.3" width="45.8" height="20.7" fill="#fafafa" stroke="#c81e1e" stroke-width="2.6"/>
<text x="1238.2" y="447.2" font-size="15.3" font-weight="bold" fill="#000" stroke="#000" stroke-width="0.3" text-anchor="start" textLength="38.8" lengthAdjust="spacingAndGlyphs">EI30C</text>
<path d="M1254.4,426.0 A40.0,40.0 0 0 1 1284.0,426.0" stroke="#111" stroke-width="1.1" fill="none"/>
<line x1="1254.4" y1="426.0" x2="1284.0" y2="426.0" stroke="#111" stroke-width="1"/>
<path d="M1284.0,452.0 A40.0,40.0 0 0 1 1254.4,458.0" stroke="#111" stroke-width="1.1" fill="none"/>
<rect x="1261" y="328.7" width="191.6" height="74.7" fill="none" stroke="#d42626" stroke-width="1.3"/>
<text x="1282.7" y="346.8" font-size="18" font-weight="bold" fill="#000" stroke="#000" stroke-width="0.45" text-anchor="start">40/1</text>
<circle cx="1301.5" cy="363.4" r="10.0" fill="#2a5ad0" stroke="#1a1a1a" stroke-width="1.6"/>
<path d="M1301.5,363.4 L1295.3,357.2 A9.0,9.0 0 0 1 1307.7,357.2 Z M1301.5,363.4 L1307.7,369.6 A9.0,9.0 0 0 1 1295.3,369.6 Z" fill="#5a8af0"/>
<line x1="1294.5" y1="356.4" x2="1308.5" y2="370.4" stroke="#222" stroke-width="1.6"/>
<line x1="1294.5" y1="370.4" x2="1308.5" y2="356.4" stroke="#222" stroke-width="1.6"/>
<text x="1341.6" y="344.6" font-size="24" font-weight="bold" fill="#000" stroke="#000" stroke-width="0.45" textLength="52.1" lengthAdjust="spacingAndGlyphs">labor</text>
<text x="1333.7" y="363.8" font-size="20" font-weight="bold" fill="#000" stroke="#000" stroke-width="0.45" textLength="31.7" lengthAdjust="spacingAndGlyphs">E21</text>
<text x="1374.0" y="371.7" font-size="18" font-weight="bold" fill="#000" stroke="#000" stroke-width="0.45" text-anchor="start">39/1</text>
<circle cx="1423.8" cy="365.0" r="10.0" fill="#d07a40" stroke="#1a1a1a" stroke-width="1.6"/>
<path d="M1423.8,365.0 L1417.6,358.8 A9.0,9.0 0 0 1 1430.0,358.8 Z M1423.8,365.0 L1430.0,371.2 A9.0,9.0 0 0 1 1417.6,371.2 Z" fill="#f0a070"/>
<line x1="1416.8" y1="358.0" x2="1430.8" y2="372.0" stroke="#222" stroke-width="1.6"/>
<line x1="1416.8" y1="372.0" x2="1430.8" y2="358.0" stroke="#222" stroke-width="1.6"/>
<text x="1340.5" y="386.5" font-size="20" font-weight="bold" fill="#d42626" stroke="#d42626" stroke-width="0.45" text-anchor="start">N2</text>
<polygon points="1288.7,391.5 1310.7,391.5 1299.7,402.0" fill="none" stroke="#d42626" stroke-width="2.2" stroke-linejoin="miter"/>
<polygon points="1322.7,391.5 1344.7,391.5 1333.7,402.0" fill="none" stroke="#d42626" stroke-width="2.2" stroke-linejoin="miter"/>
<polygon points="1357.0,391.5 1379.0,391.5 1368.0,402.0" fill="none" stroke="#d42626" stroke-width="2.2" stroke-linejoin="miter"/>
<polygon points="1390.6,391.5 1412.6,391.5 1401.6,402.0" fill="none" stroke="#d42626" stroke-width="2.2" stroke-linejoin="miter"/>
<polygon points="1425.7,391.5 1447.7,391.5 1436.7,402.0" fill="none" stroke="#d42626" stroke-width="2.2" stroke-linejoin="miter"/>
<polygon points="1261.5,359.0 1272.5,348.5 1272.5,369.5" fill="none" stroke="#d42626" stroke-width="2.2" stroke-linejoin="miter"/>
<polygon points="1452.2,338.0 1440.4,329.0 1440.4,347.0" fill="none" stroke="#d42626" stroke-width="2.2" stroke-linejoin="miter"/>
<polygon points="1452.2,371.8 1440.4,360.3 1440.4,383.3" fill="none" stroke="#d42626" stroke-width="2.2" stroke-linejoin="miter"/>
<line x1="1425.4" y1="339.3" x2="1490.0" y2="339.3" stroke="#d42626" stroke-width="3"/>
<circle cx="1425.4" cy="339.3" r="9.5" fill="#e81818"/>
<polygon points="1498.0,328.3 1548.5,328.3 1556.0,339.3 1490.0,339.3" fill="#f0e830"/>
<line x1="1490.0" y1="339.0" x2="1498.1" y2="328.1" stroke="#111" stroke-width="2.6"/>
<line x1="1548.5" y1="328.1" x2="1556.0" y2="339.0" stroke="#111" stroke-width="2.6"/>
<polygon points="1514.5,335.5 1518.0,328.5 1525.5,331.5" fill="#111"/>
<rect x="1490.5" y="340.0" width="65.5" height="24.3" fill="#f8f8f8" stroke="#111" stroke-width="3"/>
<text x="1523.2" y="361.0" font-size="24" font-weight="bold" fill="#000" stroke="#000" stroke-width="0.45" text-anchor="middle">60kV</text>
<text x="1295.0" y="448.7" font-size="24" font-weight="bold" fill="#000" stroke="#000" stroke-width="0.45" textLength="96.4" lengthAdjust="spacingAndGlyphs">Müllraum</text>
<text x="1285.0" y="470.0" font-size="20" font-weight="bold" fill="#000" stroke="#000" stroke-width="0.45" textLength="34.0" lengthAdjust="spacingAndGlyphs">E22</text>
<circle cx="1339.3" cy="470.3" r="10.0" fill="#c080d8" stroke="#1a1a1a" stroke-width="1.6"/>
<path d="M1339.3,470.3 L1333.1,464.1 A9.0,9.0 0 0 1 1345.5,464.1 Z M1339.3,470.3 L1345.5,476.5 A9.0,9.0 0 0 1 1333.1,476.5 Z" fill="#e0b0f0"/>
<line x1="1332.3" y1="463.3" x2="1346.3" y2="477.3" stroke="#222" stroke-width="1.6"/>
<line x1="1332.3" y1="477.3" x2="1346.3" y2="463.3" stroke="#222" stroke-width="1.6"/>
<text x="1315.6" y="499.7" font-size="18" font-weight="bold" fill="#000" stroke="#000" stroke-width="0.45" text-anchor="start">41/1E</text>
<polygon points="1416.0,431.8 1447.0,483.8 1385.8,483.8" fill="#e01818" stroke="#111" stroke-width="2" stroke-linejoin="miter"/>
<text x="1416.5" y="477.0" font-size="24" font-weight="bold" fill="#6a0a0a" stroke="#6a0a0a" stroke-width="0.45" text-anchor="middle">B</text>
<rect x="1387.0" y="483.8" width="60.0" height="15.5" fill="#f8f8f8" stroke="#111" stroke-width="2"/>
<text x="1417.0" y="497.0" font-size="12" font-weight="bold" fill="#000" stroke="#000" stroke-width="0.45" text-anchor="middle">Müll</text>
<rect x="1446.5" y="454.9" width="45.3" height="19.9" fill="#fafafa" stroke="#c81e1e" stroke-width="2.6"/>
<text x="1450.0" y="470.2" font-size="14.7" font-weight="bold" fill="#000" stroke="#000" stroke-width="0.3" text-anchor="start" textLength="38.3" lengthAdjust="spacingAndGlyphs">EI30C</text>
<line x1="1462.8" y1="434.0" x2="1499.0" y2="434.0" stroke="#111" stroke-width="1"/>
<line x1="1462.8" y1="495.0" x2="1499.0" y2="495.0" stroke="#111" stroke-width="1"/>
<path d="M1499.0,434.0 A30.0,30.0 0 0 1 1490.0,455.0" stroke="#111" stroke-width="1.1" fill="none"/>
<path d="M1490.0,475.0 A30.0,30.0 0 0 1 1499.0,495.0" stroke="#111" stroke-width="1.1" fill="none"/>
<polygon points="1501.3,462.3 1536.4,438.5 1536.4,451.0 1578.3,451.0 1578.3,474.8 1536.4,474.8 1536.4,486.0" fill="none" stroke="#d42a2a" stroke-width="3.5" stroke-linejoin="miter"/>
<text x="239.5" y="410.5" font-size="20" font-weight="bold" fill="#000" stroke="#000" stroke-width="0.45" textLength="71.5" lengthAdjust="spacingAndGlyphs">Stiege 4</text>
<rect x="240.0" y="419.0" width="71.0" height="70.4" fill="#80ef00" stroke="#111" stroke-width="3"/>
<text x="252.1" y="442.2" font-size="20" font-weight="bold" fill="#123" stroke="#123" stroke-width="0.45" text-anchor="start">8</text>
<text x="287.6" y="485.9" font-size="20" font-weight="bold" fill="#123" stroke="#123" stroke-width="0.45" text-anchor="start">K</text>
<polyline points="258.5,481.0 258.5,462.6 274.8,462.6 274.8,444.3 292.5,444.3 292.5,428.9" fill="none" stroke="#123" stroke-width="3"/>
<text x="2102.0" y="408.3" font-size="20" font-weight="bold" fill="#000" stroke="#000" stroke-width="0.45" textLength="71.0" lengthAdjust="spacingAndGlyphs">Stiege 3</text>
<rect x="2102.0" y="419.6" width="69.5" height="69.8" fill="#80ef00" stroke="#111" stroke-width="3"/>
<text x="2113.8" y="442.6" font-size="20" font-weight="bold" fill="#123" stroke="#123" stroke-width="0.45" text-anchor="start">8</text>
<text x="2148.6" y="485.9" font-size="20" font-weight="bold" fill="#123" stroke="#123" stroke-width="0.45" text-anchor="start">K</text>
<polyline points="2120.1,481.0 2120.1,462.9 2136.1,462.9 2136.1,444.7 2153.4,444.7 2153.4,429.4" fill="none" stroke="#123" stroke-width="3"/>
<rect x="813.7" y="1009.8" width="94.3" height="79.5" fill="#70e020" stroke="#111" stroke-width="2.5"/>
<rect x="892.0" y="1009.8" width="16.0" height="79.5" fill="#f4f4f4" stroke="#111" stroke-width="2.5"/>
<rect x="817.7" y="1013.8" width="70.3" height="71.5" fill="#80ef00" stroke="#123" stroke-width="3"/>
<polygon points="906.5,1033.8 893.5,1043.0 906.5,1052.3" fill="#80e030"/>
<polygon points="906.5,1052.3 893.5,1061.5 906.5,1070.8" fill="#80e030"/>
<polygon points="906.5,1070.8 893.5,1080.0 906.5,1089.3" fill="#80e030"/>
<text x="900.0" y="1029.8" font-size="18" font-weight="bold" fill="#000" stroke="#000" stroke-width="0.45" text-anchor="middle">B</text>
<text x="827.8" y="1037.6" font-size="22" font-weight="bold" fill="#123" stroke="#123" stroke-width="0.45" text-anchor="start">8</text>
<text x="865.4" y="1081.3" font-size="22" font-weight="bold" fill="#123" stroke="#123" stroke-width="0.45" text-anchor="start">K</text>
<polyline points="836.4,1075.8 836.4,1057.5 852.9,1057.5 852.9,1040.0 870.9,1040.0 870.9,1024.1" fill="none" stroke="#123" stroke-width="3"/>
<text x="826.0" y="1108.0" font-size="20" font-weight="bold" fill="#000" stroke="#000" stroke-width="0.45" textLength="71.0" lengthAdjust="spacingAndGlyphs">Stiege 1</text>
<rect x="1503.6" y="1010.4" width="96.4" height="80.3" fill="#70e020" stroke="#111" stroke-width="2.5"/>
<rect x="1582.8" y="1010.4" width="17.2" height="80.3" fill="#f4f4f4" stroke="#111" stroke-width="2.5"/>
<rect x="1507.6" y="1014.4" width="71.2" height="72.3" fill="#80ef00" stroke="#123" stroke-width="3"/>
<polygon points="1598.5,1034.4 1584.3,1043.7 1598.5,1052.9" fill="#80e030"/>
<polygon points="1598.5,1052.9 1584.3,1062.2 1598.5,1071.4" fill="#80e030"/>
<polygon points="1598.5,1071.4 1584.3,1080.7 1598.5,1089.9" fill="#80e030"/>
<text x="1591.4" y="1030.4" font-size="18" font-weight="bold" fill="#000" stroke="#000" stroke-width="0.45" text-anchor="middle">B</text>
<text x="1517.9" y="1038.5" font-size="22" font-weight="bold" fill="#123" stroke="#123" stroke-width="0.45" text-anchor="start">8</text>
<text x="1555.9" y="1082.7" font-size="22" font-weight="bold" fill="#123" stroke="#123" stroke-width="0.45" text-anchor="start">K</text>
<polyline points="1526.6,1077.0 1526.6,1058.6 1543.2,1058.6 1543.2,1040.9 1561.4,1040.9 1561.4,1024.9" fill="none" stroke="#123" stroke-width="3"/>
<text x="1516.6" y="1107.0" font-size="20" font-weight="bold" fill="#000" stroke="#000" stroke-width="0.45" textLength="71.4" lengthAdjust="spacingAndGlyphs">Stiege 2</text>
<circle cx="1085.0" cy="1013.0" r="13.0" fill="#fafafa" stroke="#111" stroke-width="2.4"/>
<circle cx="1085.0" cy="1013.0" r="8.5" fill="#2a8ae0"/>
<polygon points="1083.7,1030.0 1091.0,1052.0 1076.0,1052.0" fill="#2a7ad8"/>
<line x1="1083.7" y1="1050.0" x2="1083.7" y2="1076.0" stroke="#2a7ad8" stroke-width="2"/>
<text x="1092.0" y="1039.8" font-size="20" font-weight="bold" fill="#000" stroke="#000" stroke-width="0.45" text-anchor="start">2xB</text>
<polygon points="1205.6,1014.0 1233.7,1054.4 1220.0,1054.4 1220.0,1110.5 1191.7,1110.5 1191.7,1054.4 1177.6,1054.4" fill="#e01818" stroke="#111" stroke-width="2" stroke-linejoin="miter"/>
<text x="0" y="0" font-size="20" font-weight="bold" fill="#3a0a0a" stroke="#3a0a0a" stroke-width="0.45" text-anchor="middle" dominant-baseline="central" transform="translate(1206.0,1082.0) rotate(-90)">FW</text>
<rect x="1298.5" y="1001.5" width="54.8" height="25.5" fill="#f6f6f6" stroke="#b82a2a" stroke-width="2.8"/>
<circle cx="1311.8" cy="1013.7" r="7.0" fill="#ddd" stroke="#111" stroke-width="2.2"/>
<line x1="1319.0" y1="1013.7" x2="1345.0" y2="1013.7" stroke="#111" stroke-width="2.6"/>
<line x1="1344.0" y1="1013.7" x2="1344.0" y2="1020.0" stroke="#111" stroke-width="2.4"/>
<line x1="1339.0" y1="1013.7" x2="1339.0" y2="1018.0" stroke="#111" stroke-width="2"/>
<polygon points="1345.6,1031.5 1345.6,1031.5 1345.0,1036.3 1352.8,1038.2 1350.4,1044.5 1343.3,1040.8 1340.6,1044.8 1346.6,1050.1 1341.5,1054.5 1337.0,1048.0 1332.7,1050.2 1335.5,1057.7 1329.0,1059.3 1328.0,1051.4 1323.2,1051.4 1322.2,1059.3 1315.7,1057.7 1318.5,1050.2 1314.2,1048.0 1309.7,1054.5 1304.6,1050.1 1310.6,1044.8 1307.9,1040.8 1300.8,1044.5 1298.4,1038.2 1306.2,1036.3 1305.6,1031.5 1305.6,1031.5" fill="#f08a10"/>
<rect x="1872.4" y="46.6" width="63.9" height="165.1" fill="#f8f8f8" stroke="#111" stroke-width="2.5"/>
<line x1="1873" y1="119.8" x2="1936" y2="119.8" stroke="#111" stroke-width="2" stroke-dasharray="9,6"/>
<line x1="1873" y1="140.2" x2="1936" y2="140.2" stroke="#111" stroke-width="2" stroke-dasharray="9,6"/>
<text x="0" y="0" font-size="26" font-weight="normal" fill="#000" stroke="#000" stroke-width="0.8" text-anchor="middle" dominant-baseline="central" transform="translate(1904.7,132.3) rotate(-90)" textLength="75" lengthAdjust="spacingAndGlyphs">Plan 4</text>
<rect x="1785.4" y="211.7" width="238.3" height="59.8" fill="#f84a05" stroke="#111" stroke-width="2.5"/>
<text x="1907.8" y="250.7" font-size="27" font-weight="bold" fill="#2a0a0a" stroke="#2a0a0a" stroke-width="0.45" text-anchor="middle">Plan 3</text>
<polygon points="1906.6,272.7 1921.0,291.0 1913.9,291.0 1913.9,319.0 1899.8,319.0 1899.8,291.0 1892.0,291.0" fill="#d81818" stroke="#111" stroke-width="1.5" stroke-linejoin="miter"/>
<text x="1760.0" y="305.0" font-size="18.5" font-weight="bold" fill="#000" stroke="#000" stroke-width="0.45" text-anchor="start" textLength="127" lengthAdjust="spacingAndGlyphs">MUSTERSTR.</text>
<polygon points="2028.3,113.2 2239.4,67.2 2132.3,112.7 2122.9,98.6 2111.9,103.3 2079.0,109.1 2085.3,131.5 2064.4,137.8" fill="#0a0a0a"/>
<polyline points="2239.4,67.2 2057.0,182.2 2064.4,137.8" fill="none" stroke="#0a0a0a" stroke-width="3.5"/>
<line x1="2085.3" y1="131.5" x2="2096.8" y2="154.5" stroke="#0a0a0a" stroke-width="3.5"/>
<line x1="2114.5" y1="102.3" x2="2096.8" y2="154.5" stroke="#0a0a0a" stroke-width="5"/>
<polyline points="2122.4,99.1 2136.5,127.4 2106.2,143.0 2122.4,99.1" fill="none" stroke="#0a0a0a" stroke-width="3"/>
<line x1="2132.3" y1="112.7" x2="2136.5" y2="127.4" stroke="#0a0a0a" stroke-width="3"/>
<line x1="2108.0" y1="142.0" x2="2135.0" y2="129.0" stroke="#0a0a0a" stroke-width="1.5"/>
<text x="2051.8" y="1175.2" font-size="18.5" font-weight="bold" fill="#c02020" stroke="#c02020" stroke-width="0.8" text-anchor="middle" textLength="246" lengthAdjust="spacingAndGlyphs">BRANDMELDERGRUPPEN</text>
<text x="2052.2" y="1197.4" font-size="18.5" font-weight="bold" fill="#c02020" stroke="#c02020" stroke-width="0.8" text-anchor="middle" textLength="218" lengthAdjust="spacingAndGlyphs">DRUCKKNOPFMELDER</text>
<rect x="1979.2" y="1204.0" width="145.8" height="29.7" fill="#111"/>
<rect x="1982.0" y="1207.0" width="44.5" height="23.7" fill="#f04612"/>
<text x="2008.0" y="1227.5" font-size="23" font-weight="bold" fill="#fff" stroke="#fff" stroke-width="0.45" text-anchor="middle">1</text>
<rect x="2030.1" y="1207.0" width="44.5" height="23.7" fill="#f04612"/>
<text x="2052.1" y="1227.5" font-size="23" font-weight="bold" fill="#fff" stroke="#fff" stroke-width="0.45" text-anchor="middle">12</text>
<rect x="2078.2" y="1207.0" width="44.5" height="23.7" fill="#f04612"/>
<text x="2100.2" y="1227.5" font-size="23" font-weight="bold" fill="#fff" stroke="#fff" stroke-width="0.45" text-anchor="middle">21</text>
<text x="2052.5" y="1255.0" font-size="18.5" font-weight="bold" fill="#c02020" stroke="#c02020" stroke-width="0.8" text-anchor="middle" textLength="150" lengthAdjust="spacingAndGlyphs">BRANDMELDER</text>
<rect x="1907.4" y="1261.8" width="289.6" height="85.7" fill="#111"/>
<rect x="1907.4" y="1345.0" width="193.2" height="28.6" fill="#111"/>
<rect x="1909.9" y="1264.3" width="44.3" height="24.0" fill="#ff10f0"/>
<text x="1931.9" y="1285.3" font-size="23" font-weight="bold" fill="#fff" stroke="#fff" stroke-width="0.45" text-anchor="middle">2</text>
<rect x="1958.2" y="1264.3" width="44.3" height="24.0" fill="#10dd10"/>
<text x="1980.2" y="1285.3" font-size="23" font-weight="bold" fill="#111" stroke="#111" stroke-width="0.45" text-anchor="middle">3</text>
<rect x="2006.4" y="1264.3" width="44.3" height="24.0" fill="#0c0cdc"/>
<text x="2028.4" y="1285.3" font-size="23" font-weight="bold" fill="#fff" stroke="#fff" stroke-width="0.45" text-anchor="middle">4</text>
<rect x="2054.7" y="1264.3" width="44.3" height="24.0" fill="#f0b080"/>
<text x="2076.7" y="1285.3" font-size="23" font-weight="bold" fill="#111" stroke="#111" stroke-width="0.45" text-anchor="middle">5</text>
<rect x="2103.0" y="1264.3" width="44.3" height="24.0" fill="#0c0cdc"/>
<text x="2125.0" y="1285.3" font-size="23" font-weight="bold" fill="#fff" stroke="#fff" stroke-width="0.45" text-anchor="middle">6</text>
<rect x="2151.2" y="1264.3" width="44.3" height="24.0" fill="#0c0cdc"/>
<text x="2173.2" y="1285.3" font-size="23" font-weight="bold" fill="#fff" stroke="#fff" stroke-width="0.45" text-anchor="middle">7</text>
<rect x="1909.9" y="1292.2" width="44.3" height="24.0" fill="#f0b080"/>
<text x="1931.9" y="1313.2" font-size="23" font-weight="bold" fill="#111" stroke="#111" stroke-width="0.45" text-anchor="middle">8</text>
<rect x="1958.2" y="1292.2" width="44.3" height="24.0" fill="#ffff10"/>
<text x="1980.2" y="1313.2" font-size="23" font-weight="bold" fill="#111" stroke="#111" stroke-width="0.45" text-anchor="middle">9</text>
<rect x="2006.4" y="1292.2" width="44.3" height="24.0" fill="#f04612"/>
<text x="2028.4" y="1313.2" font-size="23" font-weight="bold" fill="#fff" stroke="#fff" stroke-width="0.45" text-anchor="middle">10</text>
<rect x="2054.7" y="1292.2" width="44.3" height="24.0" fill="#ff8010"/>
<text x="2076.7" y="1313.2" font-size="23" font-weight="bold" fill="#111" stroke="#111" stroke-width="0.45" text-anchor="middle">11</text>
<rect x="2103.0" y="1292.2" width="44.3" height="24.0" fill="#c030f0"/>
<text x="2125.0" y="1313.2" font-size="23" font-weight="bold" fill="#fff" stroke="#fff" stroke-width="0.45" text-anchor="middle">13</text>
<rect x="2151.2" y="1292.2" width="44.3" height="24.0" fill="#10e0e8"/>
<text x="2173.2" y="1313.2" font-size="23" font-weight="bold" fill="#111" stroke="#111" stroke-width="0.45" text-anchor="middle">14</text>
<rect x="1909.9" y="1320.2" width="44.3" height="24.0" fill="#10e0e8"/>
<text x="1931.9" y="1341.2" font-size="23" font-weight="bold" fill="#111" stroke="#111" stroke-width="0.45" text-anchor="middle">15</text>
<rect x="1958.2" y="1320.2" width="44.3" height="24.0" fill="#e01010"/>
<text x="1980.2" y="1341.2" font-size="23" font-weight="bold" fill="#fff" stroke="#fff" stroke-width="0.45" text-anchor="middle">16</text>
<rect x="2006.4" y="1320.2" width="44.3" height="24.0" fill="#10dd10"/>
<text x="2028.4" y="1341.2" font-size="23" font-weight="bold" fill="#111" stroke="#111" stroke-width="0.45" text-anchor="middle">17</text>
<rect x="2054.7" y="1320.2" width="44.3" height="24.0" fill="#ff10f0"/>
<text x="2076.7" y="1341.2" font-size="23" font-weight="bold" fill="#fff" stroke="#fff" stroke-width="0.45" text-anchor="middle">18</text>
<rect x="2103.0" y="1320.2" width="44.3" height="24.0" fill="#0c0cdc"/>
<text x="2125.0" y="1341.2" font-size="23" font-weight="bold" fill="#fff" stroke="#fff" stroke-width="0.45" text-anchor="middle">19</text>
<rect x="2151.2" y="1320.2" width="44.3" height="24.0" fill="#0c0cdc"/>
<text x="2173.2" y="1341.2" font-size="23" font-weight="bold" fill="#fff" stroke="#fff" stroke-width="0.45" text-anchor="middle">20</text>
<rect x="1909.9" y="1348.1" width="44.3" height="24.0" fill="#ff10f0"/>
<text x="1931.9" y="1369.1" font-size="23" font-weight="bold" fill="#fff" stroke="#fff" stroke-width="0.45" text-anchor="middle">22</text>
<rect x="1958.2" y="1348.1" width="44.3" height="24.0" fill="#10e0e8"/>
<text x="1980.2" y="1369.1" font-size="23" font-weight="bold" fill="#111" stroke="#111" stroke-width="0.45" text-anchor="middle">23</text>
<rect x="2006.4" y="1348.1" width="44.3" height="24.0" fill="#f04612"/>
<text x="2028.4" y="1369.1" font-size="23" font-weight="bold" fill="#fff" stroke="#fff" stroke-width="0.45" text-anchor="middle">24</text>
<rect x="2054.7" y="1348.1" width="44.3" height="24.0" fill="#10dd10"/>
<text x="2076.7" y="1369.1" font-size="23" font-weight="bold" fill="#111" stroke="#111" stroke-width="0.45" text-anchor="middle">25</text>
<line x1="1671.0" y1="1343.9" x2="1725.6" y2="1343.9" stroke="#111" stroke-width="3"/>
<line x1="1671.0" y1="1365.4" x2="1725.6" y2="1365.4" stroke="#111" stroke-width="3"/>
<line x1="1671.0" y1="1387.0" x2="1725.6" y2="1387.0" stroke="#111" stroke-width="3"/>
<line x1="1671.0" y1="1408.0" x2="1725.6" y2="1408.0" stroke="#111" stroke-width="3"/>
<line x1="1671.0" y1="1429.4" x2="1725.6" y2="1429.4" stroke="#111" stroke-width="3"/>
<line x1="1671.0" y1="1451.0" x2="1725.6" y2="1451.0" stroke="#111" stroke-width="3"/>
<line x1="1671.0" y1="1472.5" x2="1725.6" y2="1472.5" stroke="#111" stroke-width="3"/>
<line x1="1671.0" y1="1493.8" x2="1725.6" y2="1493.8" stroke="#111" stroke-width="3"/>
<line x1="1671.0" y1="1515.3" x2="1725.6" y2="1515.3" stroke="#111" stroke-width="3"/>
<line x1="1671.0" y1="1536.4" x2="1725.6" y2="1536.4" stroke="#111" stroke-width="3"/>
<line x1="1671.0" y1="1558.4" x2="1725.6" y2="1558.4" stroke="#111" stroke-width="3"/>
<line x1="1616.3" y1="1451.0" x2="1671.0" y2="1451.0" stroke="#111" stroke-width="3"/>
<line x1="1616.3" y1="1472.5" x2="1671.0" y2="1472.5" stroke="#111" stroke-width="3"/>
<line x1="1616.3" y1="1493.8" x2="1671.0" y2="1493.8" stroke="#111" stroke-width="3"/>
<line x1="1616.3" y1="1515.3" x2="1671.0" y2="1515.3" stroke="#111" stroke-width="3"/>
<line x1="1616.3" y1="1536.4" x2="1671.0" y2="1536.4" stroke="#111" stroke-width="3"/>
<line x1="1616.3" y1="1558.4" x2="1671.0" y2="1558.4" stroke="#111" stroke-width="3"/>
<line x1="1561.6" y1="1515.3" x2="1616.3" y2="1515.3" stroke="#111" stroke-width="3"/>
<line x1="1526.0" y1="1536.4" x2="1616.3" y2="1536.4" stroke="#111" stroke-width="3.5"/>
<line x1="1725.6" y1="1342.4" x2="1725.6" y2="1559.9" stroke="#111" stroke-width="3"/>
<line x1="1671.0" y1="1342.4" x2="1671.0" y2="1559.9" stroke="#111" stroke-width="3"/>
<line x1="1616.3" y1="1449.5" x2="1616.3" y2="1559.9" stroke="#111" stroke-width="3"/>
<line x1="1561.6" y1="1513.8" x2="1561.6" y2="1536.4" stroke="#111" stroke-width="3"/>
<rect x="1672.8" y="1516.8" width="51.3" height="18.2" fill="#dd1111"/>
<text x="1699.5" y="1360.4" font-size="13" font-weight="bold" fill="#111" stroke="#111" stroke-width="0.45" text-anchor="middle">8 / TG2</text>
<text x="1699.5" y="1381.6" font-size="13" font-weight="bold" fill="#111" stroke="#111" stroke-width="0.45" text-anchor="middle">7 / TG1</text>
<text x="1698.5" y="1402.4" font-size="13" font-weight="bold" fill="#111" stroke="#111" stroke-width="0.45" text-anchor="middle">6</text>
<text x="1698.5" y="1424.0" font-size="13" font-weight="bold" fill="#111" stroke="#111" stroke-width="0.45" text-anchor="middle">5</text>
<text x="1698.5" y="1444.8" font-size="13" font-weight="bold" fill="#111" stroke="#111" stroke-width="0.45" text-anchor="middle">4</text>
<text x="1698.5" y="1466.3" font-size="13" font-weight="bold" fill="#111" stroke="#111" stroke-width="0.45" text-anchor="middle">3</text>
<text x="1698.5" y="1488.0" font-size="13" font-weight="bold" fill="#111" stroke="#111" stroke-width="0.45" text-anchor="middle">2</text>
<text x="1698.5" y="1509.5" font-size="13" font-weight="bold" fill="#111" stroke="#111" stroke-width="0.45" text-anchor="middle">1</text>
<text x="1699.5" y="1531.0" font-size="13" font-weight="bold" fill="#6a0808" stroke="#6a0808" stroke-width="0.45" text-anchor="middle">E / 00</text>
<text x="1699.5" y="1552.6" font-size="13" font-weight="bold" fill="#111" stroke="#111" stroke-width="0.45" text-anchor="middle">K / -01</text>
<text x="1645.0" y="1466.3" font-size="13" font-weight="bold" fill="#000" stroke="#000" stroke-width="0.45" text-anchor="middle">3 / DG</text>
<text x="1645.0" y="1488.0" font-size="13" font-weight="bold" fill="#000" stroke="#000" stroke-width="0.45" text-anchor="middle">2</text>
<text x="1645.0" y="1509.5" font-size="13" font-weight="bold" fill="#000" stroke="#000" stroke-width="0.45" text-anchor="middle">1</text>
<text x="1645.0" y="1531.0" font-size="13" font-weight="bold" fill="#000" stroke="#000" stroke-width="0.45" text-anchor="middle">E / 0</text>
<text x="1645.0" y="1552.6" font-size="13" font-weight="bold" fill="#000" stroke="#000" stroke-width="0.45" text-anchor="middle">K</text>
<text x="1592.0" y="1531.0" font-size="13" font-weight="bold" fill="#000" stroke="#000" stroke-width="0.45" text-anchor="middle">E / L0</text>
<text x="1673.0" y="1339.3" font-size="9" font-weight="bold" fill="#000" stroke="#000" stroke-width="0.45" text-anchor="start">DH</text>
<text x="1712.5" y="1339.3" font-size="9" font-weight="bold" fill="#000" stroke="#000" stroke-width="0.45" text-anchor="start">NB</text>
<text x="1617.8" y="1446.3" font-size="9" font-weight="bold" fill="#000" stroke="#000" stroke-width="0.45" text-anchor="start">DH</text>
<text x="1651.7" y="1446.3" font-size="9" font-weight="bold" fill="#000" stroke="#000" stroke-width="0.45" text-anchor="start">NB</text>
<text x="1562.0" y="1511.0" font-size="9" font-weight="bold" fill="#000" stroke="#000" stroke-width="0.45" text-anchor="start">DH</text>
<text x="1597.0" y="1511.0" font-size="9" font-weight="bold" fill="#000" stroke="#000" stroke-width="0.45" text-anchor="start">NB</text>
<text x="1728.7" y="1369.3" font-size="10" font-weight="bold" fill="#000" stroke="#000" stroke-width="0.45" text-anchor="start" textLength="28" lengthAdjust="spacingAndGlyphs">REI90</text>
<text x="1728.7" y="1390.5" font-size="10" font-weight="bold" fill="#000" stroke="#000" stroke-width="0.45" text-anchor="start" textLength="28" lengthAdjust="spacingAndGlyphs">REI90</text>
<text x="1728.7" y="1412.0" font-size="10" font-weight="bold" fill="#000" stroke="#000" stroke-width="0.45" text-anchor="start" textLength="28" lengthAdjust="spacingAndGlyphs">REI90</text>
<text x="1728.7" y="1433.2" font-size="10" font-weight="bold" fill="#000" stroke="#000" stroke-width="0.45" text-anchor="start" textLength="28" lengthAdjust="spacingAndGlyphs">REI90</text>
<text x="1728.7" y="1454.5" font-size="10" font-weight="bold" fill="#000" stroke="#000" stroke-width="0.45" text-anchor="start" textLength="28" lengthAdjust="spacingAndGlyphs">REI90</text>
<text x="1728.7" y="1475.9" font-size="10" font-weight="bold" fill="#000" stroke="#000" stroke-width="0.45" text-anchor="start" textLength="28" lengthAdjust="spacingAndGlyphs">REI90</text>
<text x="1728.7" y="1497.0" font-size="10" font-weight="bold" fill="#000" stroke="#000" stroke-width="0.45" text-anchor="start" textLength="28" lengthAdjust="spacingAndGlyphs">REI90</text>
<text x="1728.7" y="1518.7" font-size="10" font-weight="bold" fill="#000" stroke="#000" stroke-width="0.45" text-anchor="start" textLength="28" lengthAdjust="spacingAndGlyphs">REI90</text>
<text x="1728.7" y="1540.0" font-size="10" font-weight="bold" fill="#000" stroke="#000" stroke-width="0.45" text-anchor="start" textLength="28" lengthAdjust="spacingAndGlyphs">REI90</text>
<rect x="1815.5" y="1398.0" width="459.0" height="221.5" fill="#f6f6f6" stroke="#111" stroke-width="3.5"/>
<line x1="1815.5" y1="1446.2" x2="2274.5" y2="1446.2" stroke="#111" stroke-width="3"/>
<line x1="1815.5" y1="1500.2" x2="2274.5" y2="1500.2" stroke="#111" stroke-width="3"/>
<line x1="1815.5" y1="1542.0" x2="2274.5" y2="1542.0" stroke="#111" stroke-width="3"/>
<line x1="1815.5" y1="1577.2" x2="2274.5" y2="1577.2" stroke="#111" stroke-width="3"/>
<text x="2044.0" y="1435.2" font-size="37" font-weight="bold" fill="#dd1a1a" stroke="#dd1a1a" stroke-width="1.3" text-anchor="middle" textLength="381" lengthAdjust="spacingAndGlyphs">BRANDSCHUTZPLAN</text>
<text x="2040.6" y="1476.2" font-size="29" font-weight="normal" fill="#000" stroke="#000" stroke-width="0.9" text-anchor="middle" textLength="228" lengthAdjust="spacingAndGlyphs">FA. Mustermann</text>
<text x="2040.0" y="1493.4" font-size="13" font-weight="bold" fill="#000" stroke="#000" stroke-width="0.45" text-anchor="middle" textLength="161" lengthAdjust="spacingAndGlyphs">1130; Musterstrasse 17</text>
<text x="2043.4" y="1533.8" font-size="30" font-weight="bold" fill="#d41e1e" stroke="#d41e1e" stroke-width="0.45" text-anchor="middle" textLength="349" lengthAdjust="spacingAndGlyphs">ERDGESCHOSS - TEIL 1</text>
<text x="1827.0" y="1569.7" font-size="27" font-weight="normal" fill="#000" stroke="#000" stroke-width="0.8" text-anchor="start" textLength="137" lengthAdjust="spacingAndGlyphs">08.01.2013</text>
<text x="2094.6" y="1569.7" font-size="27" font-weight="normal" fill="#000" stroke="#000" stroke-width="0.8" text-anchor="start" textLength="167" lengthAdjust="spacingAndGlyphs">Plan 3 von 13</text>
<text x="1825.4" y="1594.0" font-size="11" font-weight="bold" fill="#000" stroke="#000" stroke-width="0.45" text-anchor="start" textLength="74" lengthAdjust="spacingAndGlyphs">Planverfasser:</text>
<text x="2259.0" y="1594.0" font-size="13" font-weight="bold" fill="#000" stroke="#000" stroke-width="0.45" text-anchor="end" textLength="248" lengthAdjust="spacingAndGlyphs">Büro Musterplan, 1220; Mustergasse 27</text>
<text x="2257.7" y="1608.9" font-size="13" font-weight="bold" fill="#000" stroke="#000" stroke-width="0.45" text-anchor="end" textLength="304" lengthAdjust="spacingAndGlyphs">Tel: 01 55 555 555 / Mail: musterplan@muster.at</text>
<rect x="747.4" y="1536.4" width="691.3" height="25.8" fill="#f8f8f8" stroke="#111" stroke-width="2.5"/>
<rect x="747.4" y="1536.4" width="344.8" height="12.9" fill="#111"/>
<rect x="1092.2" y="1549.3" width="346.5" height="12.9" fill="#111"/>
<text x="740.0" y="1528.3" font-size="32" font-weight="normal" fill="#000" stroke="#000" stroke-width="1.0" text-anchor="start">0</text>
<text x="1074.5" y="1528.3" font-size="32" font-weight="normal" fill="#000" stroke="#000" stroke-width="1.0" text-anchor="start">10</text>
<text x="1418.0" y="1528.3" font-size="32" font-weight="normal" fill="#000" stroke="#000" stroke-width="1.0" text-anchor="start">20m</text>
</svg>
</body></html>
